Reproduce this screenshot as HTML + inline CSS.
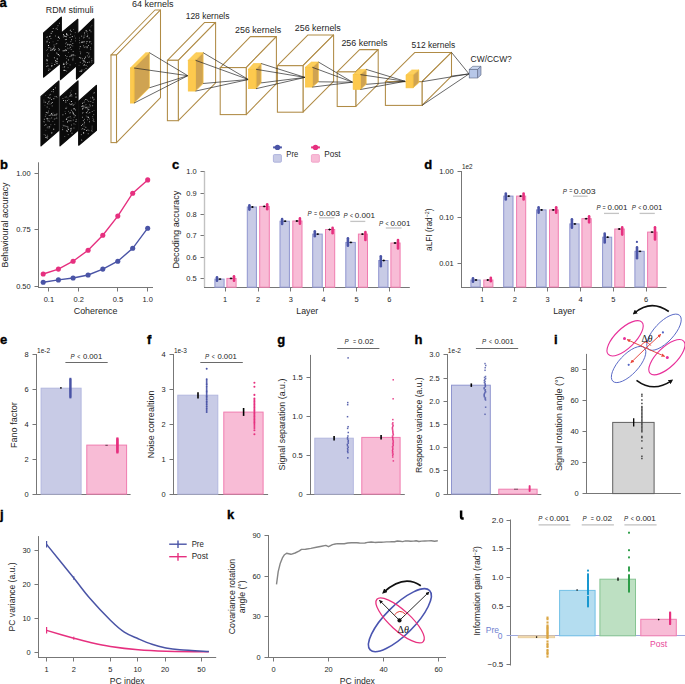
<!DOCTYPE html>
<html><head><meta charset="utf-8"><style>html,body{margin:0;padding:0;background:#fff;}svg{display:block;}text{font-family:"Liberation Sans",sans-serif;}</style></head>
<body><svg width="685" height="684" viewBox="0 0 685 684">
<rect width="685" height="684" fill="#fff"/>
<text x="-0.50" y="6.70" font-size="13" fill="#000" font-weight="bold" stroke="#000" stroke-width="0.35">a</text>
<text x="45.80" y="12.60" font-size="8.4" fill="#262626" font-weight="normal" textLength="47.80" lengthAdjust="spacingAndGlyphs">RDM stimuli</text>
<polygon points="43.60,33.00 61.30,17.10 61.30,62.50 43.60,77.00" fill="#0a0a0a" stroke="#0a0a0a" stroke-width="1.2" stroke-linejoin="round"/>
<clipPath id="st0"><polygon points="43.6,33 61.3,17.1 61.3,62.5 43.6,77"/></clipPath>
<g clip-path="url(#st0)"><rect x="50.1" y="35.6" width="0.7" height="0.7" fill="#fff" opacity="0.4"/><rect x="56.7" y="27.5" width="0.8" height="0.8" fill="#fff" opacity="0.4"/><rect x="46.3" y="50.1" width="0.8" height="0.8" fill="#fff" opacity="0.4"/><rect x="47.0" y="49.1" width="0.8" height="0.8" fill="#fff" opacity="0.4"/><rect x="54.2" y="49.2" width="1.0" height="1.0" fill="#fff" opacity="0.4"/><rect x="46.5" y="41.6" width="0.9" height="0.9" fill="#fff" opacity="0.55"/><rect x="51.4" y="49.9" width="0.8" height="0.8" fill="#fff" opacity="0.7"/><rect x="47.2" y="54.7" width="0.9" height="0.9" fill="#fff" opacity="0.55"/><rect x="47.1" y="60.3" width="0.8" height="0.8" fill="#fff" opacity="0.4"/><rect x="52.4" y="48.7" width="1.0" height="1.0" fill="#fff" opacity="0.7"/><rect x="53.6" y="44.6" width="0.8" height="0.8" fill="#fff" opacity="0.7"/><rect x="56.4" y="52.0" width="0.7" height="0.7" fill="#fff" opacity="0.55"/><rect x="53.4" y="47.6" width="1.0" height="1.0" fill="#fff" opacity="0.7"/><rect x="49.6" y="68.8" width="1.0" height="1.0" fill="#fff" opacity="0.4"/><rect x="48.0" y="45.0" width="1.0" height="1.0" fill="#fff" opacity="0.85"/><rect x="46.3" y="59.3" width="0.9" height="0.9" fill="#fff" opacity="0.7"/><rect x="55.0" y="48.9" width="0.7" height="0.7" fill="#fff" opacity="0.85"/><rect x="57.0" y="61.3" width="0.7" height="0.7" fill="#fff" opacity="0.85"/><rect x="46.6" y="60.3" width="0.9" height="0.9" fill="#fff" opacity="0.85"/><rect x="55.3" y="60.4" width="0.7" height="0.7" fill="#fff" opacity="0.7"/><rect x="58.3" y="36.6" width="1.0" height="1.0" fill="#fff" opacity="0.4"/><rect x="46.6" y="63.0" width="0.8" height="0.8" fill="#fff" opacity="0.55"/><rect x="51.1" y="65.1" width="0.7" height="0.7" fill="#fff" opacity="0.85"/><rect x="48.0" y="47.3" width="0.8" height="0.8" fill="#fff" opacity="0.7"/><rect x="56.7" y="58.3" width="1.0" height="1.0" fill="#fff" opacity="0.7"/><rect x="58.9" y="49.2" width="0.8" height="0.8" fill="#fff" opacity="0.85"/><rect x="47.8" y="38.7" width="0.8" height="0.8" fill="#fff" opacity="0.55"/><rect x="46.0" y="65.9" width="0.9" height="0.9" fill="#fff" opacity="0.55"/><rect x="49.5" y="35.9" width="0.9" height="0.9" fill="#fff" opacity="0.7"/><rect x="58.5" y="49.9" width="1.0" height="1.0" fill="#fff" opacity="0.4"/><rect x="57.8" y="54.1" width="1.0" height="1.0" fill="#fff" opacity="0.85"/><rect x="51.1" y="32.9" width="0.7" height="0.7" fill="#fff" opacity="0.85"/><rect x="48.3" y="70.0" width="0.8" height="0.8" fill="#fff" opacity="0.85"/><rect x="47.3" y="55.8" width="0.7" height="0.7" fill="#fff" opacity="0.4"/><rect x="53.3" y="48.1" width="0.7" height="0.7" fill="#fff" opacity="0.7"/><rect x="46.7" y="40.8" width="0.8" height="0.8" fill="#fff" opacity="0.85"/><rect x="54.2" y="64.0" width="1.0" height="1.0" fill="#fff" opacity="0.7"/><rect x="47.4" y="65.4" width="1.0" height="1.0" fill="#fff" opacity="0.85"/><rect x="52.2" y="31.2" width="0.9" height="0.9" fill="#fff" opacity="0.4"/><rect x="55.6" y="43.8" width="0.7" height="0.7" fill="#fff" opacity="0.55"/><rect x="48.5" y="68.6" width="0.8" height="0.8" fill="#fff" opacity="0.7"/><rect x="55.0" y="61.8" width="0.7" height="0.7" fill="#fff" opacity="0.7"/><rect x="55.1" y="35.6" width="0.8" height="0.8" fill="#fff" opacity="0.7"/><rect x="50.5" y="38.1" width="0.8" height="0.8" fill="#fff" opacity="0.7"/><rect x="54.0" y="57.6" width="0.8" height="0.8" fill="#fff" opacity="0.55"/><rect x="56.7" y="53.4" width="0.8" height="0.8" fill="#fff" opacity="0.55"/><rect x="52.7" y="41.5" width="0.7" height="0.7" fill="#fff" opacity="0.4"/><rect x="56.3" y="43.0" width="0.9" height="0.9" fill="#fff" opacity="0.55"/><rect x="51.7" y="65.3" width="0.9" height="0.9" fill="#fff" opacity="0.7"/><rect x="46.9" y="36.6" width="0.8" height="0.8" fill="#fff" opacity="0.85"/><rect x="50.3" y="48.6" width="1.0" height="1.0" fill="#fff" opacity="0.4"/><rect x="57.9" y="36.5" width="0.7" height="0.7" fill="#fff" opacity="0.4"/><rect x="57.9" y="54.0" width="1.0" height="1.0" fill="#fff" opacity="0.55"/><rect x="57.6" y="40.3" width="0.7" height="0.7" fill="#fff" opacity="0.7"/><rect x="56.5" y="62.8" width="1.0" height="1.0" fill="#fff" opacity="0.85"/><rect x="51.1" y="66.2" width="0.8" height="0.8" fill="#fff" opacity="0.55"/><rect x="59.0" y="22.8" width="0.8" height="0.8" fill="#fff" opacity="0.85"/><rect x="53.9" y="49.9" width="0.9" height="0.9" fill="#fff" opacity="0.85"/><rect x="47.9" y="53.2" width="0.7" height="0.7" fill="#fff" opacity="0.4"/><rect x="56.4" y="53.0" width="0.8" height="0.8" fill="#fff" opacity="0.4"/><rect x="51.6" y="62.9" width="0.7" height="0.7" fill="#fff" opacity="0.55"/><rect x="49.1" y="42.1" width="0.9" height="0.9" fill="#fff" opacity="0.55"/><rect x="49.2" y="47.0" width="0.7" height="0.7" fill="#fff" opacity="0.55"/><rect x="57.9" y="36.8" width="1.0" height="1.0" fill="#fff" opacity="0.85"/><rect x="56.8" y="58.8" width="0.8" height="0.8" fill="#fff" opacity="0.55"/><rect x="52.8" y="28.0" width="0.8" height="0.8" fill="#fff" opacity="0.85"/><rect x="53.9" y="57.2" width="0.8" height="0.8" fill="#fff" opacity="0.55"/><rect x="47.7" y="56.2" width="0.7" height="0.7" fill="#fff" opacity="0.4"/><rect x="50.1" y="50.1" width="0.7" height="0.7" fill="#fff" opacity="0.85"/><rect x="57.5" y="25.3" width="0.9" height="0.9" fill="#fff" opacity="0.55"/><rect x="46.4" y="36.9" width="0.7" height="0.7" fill="#fff" opacity="0.85"/><rect x="55.9" y="60.9" width="0.9" height="0.9" fill="#fff" opacity="0.85"/><rect x="53.9" y="46.3" width="0.9" height="0.9" fill="#fff" opacity="0.55"/><rect x="51.8" y="49.3" width="0.8" height="0.8" fill="#fff" opacity="0.85"/><rect x="55.1" y="60.2" width="0.8" height="0.8" fill="#fff" opacity="0.7"/><rect x="57.0" y="29.0" width="1.0" height="1.0" fill="#fff" opacity="0.4"/><rect x="51.7" y="31.1" width="1.0" height="1.0" fill="#fff" opacity="0.55"/><rect x="46.8" y="58.9" width="0.8" height="0.8" fill="#fff" opacity="0.4"/><rect x="58.3" y="48.1" width="0.8" height="0.8" fill="#fff" opacity="0.7"/><rect x="49.2" y="35.9" width="0.8" height="0.8" fill="#fff" opacity="0.85"/><rect x="55.7" y="28.4" width="0.8" height="0.8" fill="#fff" opacity="0.85"/><rect x="59.0" y="55.2" width="1.0" height="1.0" fill="#fff" opacity="0.55"/><rect x="59.0" y="37.9" width="0.8" height="0.8" fill="#fff" opacity="0.85"/><rect x="50.5" y="32.9" width="0.7" height="0.7" fill="#fff" opacity="0.7"/><rect x="50.3" y="47.6" width="1.0" height="1.0" fill="#fff" opacity="0.4"/></g>
<polygon points="60.50,33.60 77.80,19.30 77.80,64.50 60.50,79.50" fill="#0a0a0a" stroke="#0a0a0a" stroke-width="1.2" stroke-linejoin="round"/>
<clipPath id="st1"><polygon points="60.5,33.6 77.8,19.3 77.8,64.5 60.5,79.5"/></clipPath>
<g clip-path="url(#st1)"><rect x="67.0" y="56.1" width="0.7" height="0.7" fill="#fff" opacity="0.4"/><rect x="75.4" y="55.5" width="0.7" height="0.7" fill="#fff" opacity="0.4"/><rect x="66.1" y="33.1" width="0.9" height="0.9" fill="#fff" opacity="0.55"/><rect x="72.4" y="59.4" width="1.0" height="1.0" fill="#fff" opacity="0.7"/><rect x="64.6" y="70.1" width="0.9" height="0.9" fill="#fff" opacity="0.85"/><rect x="63.9" y="35.7" width="1.0" height="1.0" fill="#fff" opacity="0.55"/><rect x="74.2" y="35.6" width="0.7" height="0.7" fill="#fff" opacity="0.4"/><rect x="73.0" y="29.1" width="0.7" height="0.7" fill="#fff" opacity="0.55"/><rect x="66.1" y="36.4" width="0.9" height="0.9" fill="#fff" opacity="0.4"/><rect x="75.5" y="40.5" width="0.8" height="0.8" fill="#fff" opacity="0.7"/><rect x="63.3" y="62.8" width="0.8" height="0.8" fill="#fff" opacity="0.4"/><rect x="66.1" y="38.9" width="0.9" height="0.9" fill="#fff" opacity="0.7"/><rect x="69.6" y="37.0" width="0.8" height="0.8" fill="#fff" opacity="0.85"/><rect x="66.2" y="64.1" width="0.7" height="0.7" fill="#fff" opacity="0.7"/><rect x="62.9" y="64.0" width="1.0" height="1.0" fill="#fff" opacity="0.55"/><rect x="65.9" y="49.8" width="1.0" height="1.0" fill="#fff" opacity="0.85"/><rect x="69.7" y="64.5" width="0.8" height="0.8" fill="#fff" opacity="0.7"/><rect x="75.4" y="37.6" width="1.0" height="1.0" fill="#fff" opacity="0.55"/><rect x="75.5" y="63.3" width="0.7" height="0.7" fill="#fff" opacity="0.55"/><rect x="63.6" y="63.7" width="1.0" height="1.0" fill="#fff" opacity="0.7"/><rect x="64.8" y="36.0" width="0.9" height="0.9" fill="#fff" opacity="0.85"/><rect x="70.4" y="55.9" width="1.0" height="1.0" fill="#fff" opacity="0.4"/><rect x="65.1" y="43.3" width="0.9" height="0.9" fill="#fff" opacity="0.4"/><rect x="67.4" y="43.8" width="0.8" height="0.8" fill="#fff" opacity="0.7"/><rect x="63.1" y="69.9" width="0.9" height="0.9" fill="#fff" opacity="0.55"/><rect x="65.1" y="46.0" width="1.0" height="1.0" fill="#fff" opacity="0.4"/><rect x="66.3" y="58.0" width="0.7" height="0.7" fill="#fff" opacity="0.55"/><rect x="63.9" y="66.6" width="1.0" height="1.0" fill="#fff" opacity="0.55"/><rect x="70.3" y="44.0" width="0.9" height="0.9" fill="#fff" opacity="0.7"/><rect x="70.8" y="31.0" width="1.0" height="1.0" fill="#fff" opacity="0.55"/><rect x="72.6" y="55.3" width="0.8" height="0.8" fill="#fff" opacity="0.85"/><rect x="66.4" y="56.4" width="0.7" height="0.7" fill="#fff" opacity="0.55"/><rect x="73.3" y="54.4" width="0.8" height="0.8" fill="#fff" opacity="0.85"/><rect x="74.4" y="54.9" width="0.8" height="0.8" fill="#fff" opacity="0.4"/><rect x="63.8" y="35.1" width="0.7" height="0.7" fill="#fff" opacity="0.7"/><rect x="67.6" y="48.6" width="0.7" height="0.7" fill="#fff" opacity="0.4"/><rect x="70.8" y="55.2" width="0.9" height="0.9" fill="#fff" opacity="0.85"/><rect x="62.7" y="66.8" width="0.7" height="0.7" fill="#fff" opacity="0.4"/><rect x="72.3" y="45.5" width="0.9" height="0.9" fill="#fff" opacity="0.4"/><rect x="65.7" y="62.6" width="1.0" height="1.0" fill="#fff" opacity="0.55"/><rect x="69.1" y="44.5" width="0.9" height="0.9" fill="#fff" opacity="0.85"/><rect x="72.6" y="51.0" width="0.7" height="0.7" fill="#fff" opacity="0.55"/><rect x="70.4" y="41.3" width="0.8" height="0.8" fill="#fff" opacity="0.7"/><rect x="62.9" y="36.6" width="0.7" height="0.7" fill="#fff" opacity="0.7"/><rect x="71.6" y="54.2" width="0.9" height="0.9" fill="#fff" opacity="0.7"/><rect x="68.7" y="48.2" width="0.8" height="0.8" fill="#fff" opacity="0.4"/><rect x="66.7" y="34.4" width="0.7" height="0.7" fill="#fff" opacity="0.85"/><rect x="66.4" y="34.3" width="0.9" height="0.9" fill="#fff" opacity="0.85"/><rect x="67.7" y="67.4" width="0.7" height="0.7" fill="#fff" opacity="0.55"/><rect x="70.2" y="33.8" width="0.9" height="0.9" fill="#fff" opacity="0.7"/><rect x="64.4" y="66.3" width="0.7" height="0.7" fill="#fff" opacity="0.7"/><rect x="71.8" y="36.1" width="1.0" height="1.0" fill="#fff" opacity="0.85"/><rect x="63.0" y="34.2" width="1.0" height="1.0" fill="#fff" opacity="0.85"/><rect x="67.9" y="59.5" width="0.9" height="0.9" fill="#fff" opacity="0.85"/><rect x="67.6" y="35.2" width="0.7" height="0.7" fill="#fff" opacity="0.7"/><rect x="66.9" y="44.6" width="0.7" height="0.7" fill="#fff" opacity="0.85"/><rect x="74.8" y="32.2" width="0.9" height="0.9" fill="#fff" opacity="0.4"/><rect x="66.0" y="34.2" width="0.7" height="0.7" fill="#fff" opacity="0.85"/><rect x="67.4" y="47.8" width="0.7" height="0.7" fill="#fff" opacity="0.7"/><rect x="66.3" y="33.4" width="0.8" height="0.8" fill="#fff" opacity="0.7"/><rect x="65.9" y="42.4" width="0.8" height="0.8" fill="#fff" opacity="0.7"/><rect x="72.7" y="57.8" width="0.7" height="0.7" fill="#fff" opacity="0.85"/><rect x="73.2" y="51.1" width="0.7" height="0.7" fill="#fff" opacity="0.55"/><rect x="63.3" y="63.6" width="0.8" height="0.8" fill="#fff" opacity="0.85"/><rect x="71.0" y="39.0" width="0.8" height="0.8" fill="#fff" opacity="0.4"/><rect x="64.9" y="49.4" width="0.9" height="0.9" fill="#fff" opacity="0.7"/><rect x="66.0" y="61.6" width="1.0" height="1.0" fill="#fff" opacity="0.7"/><rect x="71.2" y="39.5" width="0.7" height="0.7" fill="#fff" opacity="0.85"/><rect x="64.9" y="39.1" width="1.0" height="1.0" fill="#fff" opacity="0.55"/><rect x="69.8" y="46.8" width="1.0" height="1.0" fill="#fff" opacity="0.7"/><rect x="68.2" y="52.0" width="0.7" height="0.7" fill="#fff" opacity="0.55"/><rect x="65.0" y="55.1" width="0.8" height="0.8" fill="#fff" opacity="0.7"/><rect x="67.5" y="63.2" width="0.7" height="0.7" fill="#fff" opacity="0.55"/><rect x="72.4" y="43.0" width="0.8" height="0.8" fill="#fff" opacity="0.85"/><rect x="67.6" y="44.0" width="1.0" height="1.0" fill="#fff" opacity="0.4"/><rect x="66.3" y="70.7" width="0.8" height="0.8" fill="#fff" opacity="0.55"/><rect x="63.9" y="69.8" width="1.0" height="1.0" fill="#fff" opacity="0.85"/><rect x="71.0" y="44.9" width="0.7" height="0.7" fill="#fff" opacity="0.7"/><rect x="64.3" y="50.2" width="1.0" height="1.0" fill="#fff" opacity="0.85"/><rect x="62.7" y="50.3" width="1.0" height="1.0" fill="#fff" opacity="0.85"/><rect x="65.9" y="36.1" width="0.8" height="0.8" fill="#fff" opacity="0.55"/><rect x="69.4" y="56.4" width="0.7" height="0.7" fill="#fff" opacity="0.85"/><rect x="69.8" y="30.0" width="0.8" height="0.8" fill="#fff" opacity="0.55"/><rect x="70.0" y="29.7" width="0.8" height="0.8" fill="#fff" opacity="0.7"/><rect x="70.8" y="49.0" width="0.7" height="0.7" fill="#fff" opacity="0.85"/></g>
<polygon points="76.50,35.20 93.70,18.80 93.70,63.00 76.50,79.00" fill="#0a0a0a" stroke="#0a0a0a" stroke-width="1.2" stroke-linejoin="round"/>
<clipPath id="st2"><polygon points="76.5,35.2 93.7,18.8 93.7,63 76.5,79"/></clipPath>
<g clip-path="url(#st2)"><rect x="80.0" y="46.1" width="1.0" height="1.0" fill="#fff" opacity="0.55"/><rect x="82.0" y="63.2" width="0.7" height="0.7" fill="#fff" opacity="0.4"/><rect x="85.6" y="67.9" width="0.9" height="0.9" fill="#fff" opacity="0.7"/><rect x="87.0" y="62.2" width="0.8" height="0.8" fill="#fff" opacity="0.85"/><rect x="85.7" y="30.1" width="0.9" height="0.9" fill="#fff" opacity="0.85"/><rect x="79.4" y="42.5" width="0.7" height="0.7" fill="#fff" opacity="0.85"/><rect x="82.0" y="58.4" width="0.8" height="0.8" fill="#fff" opacity="0.7"/><rect x="85.0" y="56.7" width="0.9" height="0.9" fill="#fff" opacity="0.85"/><rect x="87.4" y="35.0" width="0.7" height="0.7" fill="#fff" opacity="0.7"/><rect x="81.3" y="70.8" width="0.8" height="0.8" fill="#fff" opacity="0.7"/><rect x="81.7" y="41.4" width="0.7" height="0.7" fill="#fff" opacity="0.7"/><rect x="90.9" y="43.4" width="0.8" height="0.8" fill="#fff" opacity="0.55"/><rect x="84.9" y="65.2" width="0.8" height="0.8" fill="#fff" opacity="0.4"/><rect x="90.5" y="26.5" width="0.8" height="0.8" fill="#fff" opacity="0.4"/><rect x="84.0" y="58.2" width="1.0" height="1.0" fill="#fff" opacity="0.55"/><rect x="84.5" y="57.9" width="0.7" height="0.7" fill="#fff" opacity="0.7"/><rect x="91.5" y="59.9" width="0.8" height="0.8" fill="#fff" opacity="0.7"/><rect x="81.1" y="69.7" width="0.7" height="0.7" fill="#fff" opacity="0.85"/><rect x="82.7" y="60.0" width="0.9" height="0.9" fill="#fff" opacity="0.7"/><rect x="84.4" y="34.5" width="0.9" height="0.9" fill="#fff" opacity="0.4"/><rect x="79.7" y="51.0" width="0.8" height="0.8" fill="#fff" opacity="0.4"/><rect x="83.6" y="60.9" width="1.0" height="1.0" fill="#fff" opacity="0.7"/><rect x="79.8" y="61.9" width="0.9" height="0.9" fill="#fff" opacity="0.55"/><rect x="85.6" y="46.4" width="0.9" height="0.9" fill="#fff" opacity="0.7"/><rect x="88.1" y="45.1" width="0.8" height="0.8" fill="#fff" opacity="0.85"/><rect x="89.1" y="55.7" width="1.0" height="1.0" fill="#fff" opacity="0.4"/><rect x="79.1" y="37.6" width="0.9" height="0.9" fill="#fff" opacity="0.4"/><rect x="81.2" y="35.7" width="0.9" height="0.9" fill="#fff" opacity="0.7"/><rect x="82.2" y="69.6" width="0.9" height="0.9" fill="#fff" opacity="0.4"/><rect x="88.3" y="53.4" width="0.9" height="0.9" fill="#fff" opacity="0.7"/><rect x="78.7" y="64.9" width="0.7" height="0.7" fill="#fff" opacity="0.4"/><rect x="89.3" y="29.7" width="1.0" height="1.0" fill="#fff" opacity="0.85"/><rect x="88.8" y="61.7" width="0.8" height="0.8" fill="#fff" opacity="0.85"/><rect x="90.6" y="31.4" width="0.8" height="0.8" fill="#fff" opacity="0.7"/><rect x="86.5" y="41.0" width="1.0" height="1.0" fill="#fff" opacity="0.7"/><rect x="83.3" y="61.7" width="0.8" height="0.8" fill="#fff" opacity="0.4"/><rect x="83.7" y="37.1" width="0.7" height="0.7" fill="#fff" opacity="0.85"/><rect x="87.0" y="46.5" width="0.8" height="0.8" fill="#fff" opacity="0.7"/><rect x="91.2" y="58.2" width="0.9" height="0.9" fill="#fff" opacity="0.4"/><rect x="86.7" y="36.1" width="1.0" height="1.0" fill="#fff" opacity="0.85"/><rect x="91.4" y="61.6" width="0.8" height="0.8" fill="#fff" opacity="0.55"/><rect x="80.4" y="51.9" width="0.7" height="0.7" fill="#fff" opacity="0.55"/><rect x="88.7" y="37.6" width="0.9" height="0.9" fill="#fff" opacity="0.7"/><rect x="83.5" y="59.8" width="1.0" height="1.0" fill="#fff" opacity="0.55"/><rect x="81.9" y="42.1" width="0.9" height="0.9" fill="#fff" opacity="0.55"/><rect x="90.0" y="47.4" width="0.7" height="0.7" fill="#fff" opacity="0.7"/><rect x="83.8" y="69.4" width="0.7" height="0.7" fill="#fff" opacity="0.55"/><rect x="87.1" y="66.3" width="0.7" height="0.7" fill="#fff" opacity="0.4"/><rect x="84.8" y="61.7" width="0.9" height="0.9" fill="#fff" opacity="0.85"/><rect x="79.2" y="46.5" width="0.7" height="0.7" fill="#fff" opacity="0.4"/><rect x="81.1" y="71.1" width="0.7" height="0.7" fill="#fff" opacity="0.55"/><rect x="83.5" y="64.8" width="0.9" height="0.9" fill="#fff" opacity="0.85"/><rect x="88.6" y="52.1" width="0.7" height="0.7" fill="#fff" opacity="0.4"/><rect x="86.9" y="55.5" width="0.8" height="0.8" fill="#fff" opacity="0.7"/><rect x="79.2" y="48.4" width="0.8" height="0.8" fill="#fff" opacity="0.4"/><rect x="91.5" y="24.9" width="0.7" height="0.7" fill="#fff" opacity="0.55"/><rect x="89.2" y="41.6" width="0.8" height="0.8" fill="#fff" opacity="0.7"/><rect x="86.6" y="31.1" width="1.0" height="1.0" fill="#fff" opacity="0.4"/><rect x="85.7" y="31.4" width="1.0" height="1.0" fill="#fff" opacity="0.4"/><rect x="87.2" y="33.5" width="0.8" height="0.8" fill="#fff" opacity="0.4"/><rect x="83.8" y="41.3" width="0.9" height="0.9" fill="#fff" opacity="0.7"/><rect x="84.0" y="32.5" width="1.0" height="1.0" fill="#fff" opacity="0.7"/><rect x="84.0" y="64.2" width="0.8" height="0.8" fill="#fff" opacity="0.7"/><rect x="83.7" y="46.6" width="1.0" height="1.0" fill="#fff" opacity="0.4"/><rect x="90.2" y="41.2" width="1.0" height="1.0" fill="#fff" opacity="0.4"/><rect x="86.1" y="42.8" width="0.8" height="0.8" fill="#fff" opacity="0.55"/><rect x="78.9" y="56.9" width="0.7" height="0.7" fill="#fff" opacity="0.85"/><rect x="86.0" y="64.8" width="0.8" height="0.8" fill="#fff" opacity="0.55"/><rect x="83.2" y="37.7" width="0.7" height="0.7" fill="#fff" opacity="0.55"/><rect x="80.1" y="53.3" width="0.9" height="0.9" fill="#fff" opacity="0.55"/><rect x="80.3" y="70.7" width="0.9" height="0.9" fill="#fff" opacity="0.85"/><rect x="79.4" y="70.9" width="0.7" height="0.7" fill="#fff" opacity="0.85"/><rect x="90.3" y="48.8" width="0.8" height="0.8" fill="#fff" opacity="0.55"/><rect x="86.6" y="52.0" width="1.0" height="1.0" fill="#fff" opacity="0.55"/><rect x="81.0" y="41.9" width="0.8" height="0.8" fill="#fff" opacity="0.85"/><rect x="83.6" y="35.7" width="0.8" height="0.8" fill="#fff" opacity="0.55"/><rect x="79.2" y="57.0" width="0.9" height="0.9" fill="#fff" opacity="0.4"/><rect x="80.2" y="57.5" width="1.0" height="1.0" fill="#fff" opacity="0.7"/><rect x="82.6" y="41.5" width="0.9" height="0.9" fill="#fff" opacity="0.85"/><rect x="84.4" y="47.2" width="0.7" height="0.7" fill="#fff" opacity="0.4"/><rect x="86.6" y="47.2" width="1.0" height="1.0" fill="#fff" opacity="0.55"/><rect x="88.5" y="56.8" width="0.8" height="0.8" fill="#fff" opacity="0.85"/><rect x="89.1" y="41.4" width="0.8" height="0.8" fill="#fff" opacity="0.4"/><rect x="83.3" y="45.5" width="0.7" height="0.7" fill="#fff" opacity="0.85"/><rect x="79.2" y="40.2" width="0.7" height="0.7" fill="#fff" opacity="0.7"/></g>
<polygon points="41.00,96.40 58.90,81.00 58.90,130.40 41.00,145.80" fill="#0a0a0a" stroke="#0a0a0a" stroke-width="1.2" stroke-linejoin="round"/>
<clipPath id="st3"><polygon points="41,96.4 58.9,81 58.9,130.4 41,145.8"/></clipPath>
<g clip-path="url(#st3)"><rect x="43.9" y="118.8" width="0.8" height="0.8" fill="#fff" opacity="0.85"/><rect x="43.5" y="99.7" width="0.8" height="0.8" fill="#fff" opacity="0.4"/><rect x="45.0" y="134.8" width="0.8" height="0.8" fill="#fff" opacity="0.7"/><rect x="52.5" y="121.1" width="0.7" height="0.7" fill="#fff" opacity="0.55"/><rect x="54.4" y="114.4" width="0.8" height="0.8" fill="#fff" opacity="0.7"/><rect x="47.6" y="120.5" width="0.8" height="0.8" fill="#fff" opacity="0.85"/><rect x="46.6" y="136.9" width="0.8" height="0.8" fill="#fff" opacity="0.85"/><rect x="51.2" y="117.5" width="0.9" height="0.9" fill="#fff" opacity="0.55"/><rect x="48.2" y="101.5" width="0.8" height="0.8" fill="#fff" opacity="0.85"/><rect x="51.8" y="102.0" width="1.0" height="1.0" fill="#fff" opacity="0.7"/><rect x="45.5" y="129.9" width="0.7" height="0.7" fill="#fff" opacity="0.4"/><rect x="51.8" y="105.6" width="0.7" height="0.7" fill="#fff" opacity="0.85"/><rect x="46.6" y="117.9" width="0.9" height="0.9" fill="#fff" opacity="0.85"/><rect x="46.8" y="137.9" width="0.9" height="0.9" fill="#fff" opacity="0.55"/><rect x="47.7" y="96.8" width="0.8" height="0.8" fill="#fff" opacity="0.55"/><rect x="51.5" y="132.4" width="0.9" height="0.9" fill="#fff" opacity="0.7"/><rect x="47.4" y="136.3" width="0.7" height="0.7" fill="#fff" opacity="0.7"/><rect x="53.3" y="98.2" width="1.0" height="1.0" fill="#fff" opacity="0.7"/><rect x="48.8" y="108.3" width="0.8" height="0.8" fill="#fff" opacity="0.4"/><rect x="49.8" y="118.5" width="0.7" height="0.7" fill="#fff" opacity="0.4"/><rect x="43.9" y="121.6" width="0.7" height="0.7" fill="#fff" opacity="0.7"/><rect x="50.3" y="114.6" width="0.9" height="0.9" fill="#fff" opacity="0.85"/><rect x="51.2" y="99.2" width="0.8" height="0.8" fill="#fff" opacity="0.85"/><rect x="45.0" y="137.0" width="0.8" height="0.8" fill="#fff" opacity="0.55"/><rect x="49.3" y="94.6" width="0.9" height="0.9" fill="#fff" opacity="0.55"/><rect x="48.6" y="104.1" width="0.7" height="0.7" fill="#fff" opacity="0.4"/><rect x="51.9" y="114.5" width="1.0" height="1.0" fill="#fff" opacity="0.7"/><rect x="51.3" y="113.0" width="0.8" height="0.8" fill="#fff" opacity="0.85"/><rect x="45.4" y="95.1" width="0.7" height="0.7" fill="#fff" opacity="0.4"/><rect x="48.7" y="102.8" width="0.7" height="0.7" fill="#fff" opacity="0.4"/><rect x="43.4" y="121.3" width="0.8" height="0.8" fill="#fff" opacity="0.55"/><rect x="48.8" y="115.2" width="0.8" height="0.8" fill="#fff" opacity="0.85"/><rect x="50.1" y="93.9" width="1.0" height="1.0" fill="#fff" opacity="0.4"/><rect x="52.9" y="89.0" width="1.0" height="1.0" fill="#fff" opacity="0.85"/><rect x="44.3" y="125.2" width="0.8" height="0.8" fill="#fff" opacity="0.55"/><rect x="56.7" y="97.0" width="0.7" height="0.7" fill="#fff" opacity="0.4"/><rect x="47.7" y="126.4" width="0.7" height="0.7" fill="#fff" opacity="0.7"/><rect x="46.8" y="118.5" width="0.9" height="0.9" fill="#fff" opacity="0.85"/><rect x="47.2" y="134.8" width="0.7" height="0.7" fill="#fff" opacity="0.55"/><rect x="55.1" y="87.5" width="0.8" height="0.8" fill="#fff" opacity="0.7"/><rect x="54.6" y="96.2" width="0.9" height="0.9" fill="#fff" opacity="0.55"/><rect x="45.8" y="112.0" width="1.0" height="1.0" fill="#fff" opacity="0.55"/><rect x="55.5" y="114.5" width="1.0" height="1.0" fill="#fff" opacity="0.85"/><rect x="54.5" y="118.2" width="1.0" height="1.0" fill="#fff" opacity="0.4"/><rect x="56.1" y="96.3" width="0.8" height="0.8" fill="#fff" opacity="0.7"/><rect x="48.5" y="118.4" width="0.8" height="0.8" fill="#fff" opacity="0.55"/><rect x="43.6" y="101.6" width="0.9" height="0.9" fill="#fff" opacity="0.55"/><rect x="56.4" y="116.8" width="0.7" height="0.7" fill="#fff" opacity="0.4"/><rect x="45.1" y="124.0" width="0.7" height="0.7" fill="#fff" opacity="0.4"/><rect x="53.1" y="91.4" width="0.8" height="0.8" fill="#fff" opacity="0.7"/><rect x="54.2" y="123.9" width="1.0" height="1.0" fill="#fff" opacity="0.4"/><rect x="44.6" y="104.9" width="0.7" height="0.7" fill="#fff" opacity="0.4"/><rect x="43.7" y="134.2" width="0.9" height="0.9" fill="#fff" opacity="0.4"/><rect x="49.6" y="97.4" width="0.9" height="0.9" fill="#fff" opacity="0.55"/><rect x="47.5" y="112.1" width="0.9" height="0.9" fill="#fff" opacity="0.4"/><rect x="46.7" y="106.6" width="0.9" height="0.9" fill="#fff" opacity="0.7"/><rect x="53.6" y="114.8" width="0.9" height="0.9" fill="#fff" opacity="0.85"/><rect x="51.5" y="91.2" width="0.7" height="0.7" fill="#fff" opacity="0.85"/><rect x="49.1" y="126.3" width="1.0" height="1.0" fill="#fff" opacity="0.7"/><rect x="52.7" y="112.7" width="0.7" height="0.7" fill="#fff" opacity="0.55"/><rect x="51.0" y="103.1" width="0.7" height="0.7" fill="#fff" opacity="0.85"/><rect x="50.3" y="103.7" width="0.7" height="0.7" fill="#fff" opacity="0.4"/><rect x="47.9" y="97.2" width="1.0" height="1.0" fill="#fff" opacity="0.55"/><rect x="51.2" y="132.6" width="0.8" height="0.8" fill="#fff" opacity="0.7"/><rect x="47.0" y="103.2" width="1.0" height="1.0" fill="#fff" opacity="0.55"/><rect x="45.4" y="136.8" width="1.0" height="1.0" fill="#fff" opacity="0.4"/><rect x="53.8" y="118.8" width="0.9" height="0.9" fill="#fff" opacity="0.4"/><rect x="48.0" y="110.7" width="0.7" height="0.7" fill="#fff" opacity="0.85"/><rect x="48.9" y="120.8" width="0.8" height="0.8" fill="#fff" opacity="0.7"/><rect x="47.3" y="112.5" width="1.0" height="1.0" fill="#fff" opacity="0.55"/><rect x="56.5" y="113.6" width="0.8" height="0.8" fill="#fff" opacity="0.85"/><rect x="50.4" y="124.3" width="0.9" height="0.9" fill="#fff" opacity="0.4"/><rect x="51.1" y="113.4" width="0.9" height="0.9" fill="#fff" opacity="0.85"/><rect x="45.5" y="114.5" width="0.8" height="0.8" fill="#fff" opacity="0.7"/><rect x="44.9" y="116.1" width="0.8" height="0.8" fill="#fff" opacity="0.55"/><rect x="46.8" y="127.4" width="0.8" height="0.8" fill="#fff" opacity="0.55"/><rect x="56.4" y="117.8" width="0.8" height="0.8" fill="#fff" opacity="0.7"/><rect x="46.4" y="136.7" width="0.7" height="0.7" fill="#fff" opacity="0.7"/><rect x="45.4" y="124.3" width="1.0" height="1.0" fill="#fff" opacity="0.55"/><rect x="45.2" y="101.8" width="0.9" height="0.9" fill="#fff" opacity="0.7"/><rect x="49.1" y="100.7" width="0.9" height="0.9" fill="#fff" opacity="0.4"/><rect x="46.0" y="111.9" width="0.7" height="0.7" fill="#fff" opacity="0.4"/><rect x="48.6" y="127.5" width="0.9" height="0.9" fill="#fff" opacity="0.55"/><rect x="49.5" y="97.9" width="0.7" height="0.7" fill="#fff" opacity="0.85"/><rect x="53.2" y="128.7" width="1.0" height="1.0" fill="#fff" opacity="0.85"/></g>
<polygon points="60.00,96.90 78.00,81.00 78.00,130.40 60.00,145.80" fill="#0a0a0a" stroke="#0a0a0a" stroke-width="1.2" stroke-linejoin="round"/>
<clipPath id="st4"><polygon points="60,96.9 78,81 78,130.4 60,145.8"/></clipPath>
<g clip-path="url(#st4)"><rect x="73.7" y="116.9" width="0.8" height="0.8" fill="#fff" opacity="0.55"/><rect x="70.9" y="109.8" width="0.9" height="0.9" fill="#fff" opacity="0.7"/><rect x="70.7" y="94.2" width="0.8" height="0.8" fill="#fff" opacity="0.85"/><rect x="72.8" y="119.6" width="0.9" height="0.9" fill="#fff" opacity="0.55"/><rect x="73.8" y="108.6" width="1.0" height="1.0" fill="#fff" opacity="0.4"/><rect x="69.2" y="120.4" width="0.9" height="0.9" fill="#fff" opacity="0.55"/><rect x="72.8" y="105.3" width="0.7" height="0.7" fill="#fff" opacity="0.85"/><rect x="62.7" y="120.9" width="0.8" height="0.8" fill="#fff" opacity="0.55"/><rect x="69.3" y="95.7" width="0.8" height="0.8" fill="#fff" opacity="0.85"/><rect x="72.0" y="111.5" width="0.9" height="0.9" fill="#fff" opacity="0.7"/><rect x="67.8" y="134.3" width="0.8" height="0.8" fill="#fff" opacity="0.55"/><rect x="67.5" y="126.4" width="0.9" height="0.9" fill="#fff" opacity="0.4"/><rect x="70.9" y="101.0" width="1.0" height="1.0" fill="#fff" opacity="0.85"/><rect x="63.0" y="100.0" width="0.9" height="0.9" fill="#fff" opacity="0.85"/><rect x="70.1" y="95.3" width="1.0" height="1.0" fill="#fff" opacity="0.7"/><rect x="75.0" y="109.5" width="1.0" height="1.0" fill="#fff" opacity="0.55"/><rect x="68.5" y="99.2" width="0.8" height="0.8" fill="#fff" opacity="0.4"/><rect x="68.6" y="116.6" width="0.8" height="0.8" fill="#fff" opacity="0.55"/><rect x="67.0" y="121.4" width="1.0" height="1.0" fill="#fff" opacity="0.85"/><rect x="75.7" y="119.2" width="1.0" height="1.0" fill="#fff" opacity="0.55"/><rect x="67.0" y="130.7" width="1.0" height="1.0" fill="#fff" opacity="0.7"/><rect x="71.5" y="132.7" width="1.0" height="1.0" fill="#fff" opacity="0.55"/><rect x="62.2" y="129.2" width="0.9" height="0.9" fill="#fff" opacity="0.7"/><rect x="65.5" y="107.8" width="1.0" height="1.0" fill="#fff" opacity="0.85"/><rect x="68.0" y="120.4" width="0.8" height="0.8" fill="#fff" opacity="0.7"/><rect x="74.8" y="124.2" width="0.7" height="0.7" fill="#fff" opacity="0.4"/><rect x="73.5" y="127.6" width="0.9" height="0.9" fill="#fff" opacity="0.55"/><rect x="70.8" y="90.5" width="0.8" height="0.8" fill="#fff" opacity="0.4"/><rect x="75.1" y="115.1" width="0.7" height="0.7" fill="#fff" opacity="0.7"/><rect x="70.1" y="128.2" width="1.0" height="1.0" fill="#fff" opacity="0.55"/><rect x="66.9" y="100.0" width="0.8" height="0.8" fill="#fff" opacity="0.85"/><rect x="70.5" y="120.5" width="0.9" height="0.9" fill="#fff" opacity="0.4"/><rect x="64.9" y="125.6" width="1.0" height="1.0" fill="#fff" opacity="0.4"/><rect x="71.3" y="94.6" width="0.9" height="0.9" fill="#fff" opacity="0.4"/><rect x="67.9" y="128.9" width="1.0" height="1.0" fill="#fff" opacity="0.85"/><rect x="69.8" y="112.2" width="1.0" height="1.0" fill="#fff" opacity="0.55"/><rect x="65.6" y="101.7" width="0.8" height="0.8" fill="#fff" opacity="0.4"/><rect x="73.6" y="108.1" width="0.9" height="0.9" fill="#fff" opacity="0.85"/><rect x="73.6" y="104.0" width="0.7" height="0.7" fill="#fff" opacity="0.85"/><rect x="64.7" y="111.2" width="0.7" height="0.7" fill="#fff" opacity="0.4"/><rect x="70.5" y="120.3" width="0.7" height="0.7" fill="#fff" opacity="0.7"/><rect x="69.1" y="112.7" width="0.7" height="0.7" fill="#fff" opacity="0.55"/><rect x="65.1" y="113.2" width="0.9" height="0.9" fill="#fff" opacity="0.55"/><rect x="63.5" y="125.3" width="1.0" height="1.0" fill="#fff" opacity="0.7"/><rect x="72.8" y="112.6" width="0.9" height="0.9" fill="#fff" opacity="0.55"/><rect x="68.1" y="110.9" width="0.9" height="0.9" fill="#fff" opacity="0.4"/><rect x="66.2" y="130.4" width="0.9" height="0.9" fill="#fff" opacity="0.85"/><rect x="69.1" y="103.4" width="0.8" height="0.8" fill="#fff" opacity="0.7"/><rect x="71.1" y="124.6" width="0.8" height="0.8" fill="#fff" opacity="0.7"/><rect x="66.5" y="106.8" width="0.7" height="0.7" fill="#fff" opacity="0.4"/><rect x="67.6" y="117.1" width="0.7" height="0.7" fill="#fff" opacity="0.85"/><rect x="67.6" y="97.5" width="0.8" height="0.8" fill="#fff" opacity="0.4"/><rect x="73.4" y="108.6" width="1.0" height="1.0" fill="#fff" opacity="0.4"/><rect x="70.6" y="117.7" width="0.8" height="0.8" fill="#fff" opacity="0.4"/><rect x="62.7" y="124.8" width="0.7" height="0.7" fill="#fff" opacity="0.55"/><rect x="71.2" y="127.9" width="0.7" height="0.7" fill="#fff" opacity="0.85"/><rect x="74.6" y="115.5" width="0.8" height="0.8" fill="#fff" opacity="0.7"/><rect x="72.9" y="112.9" width="0.9" height="0.9" fill="#fff" opacity="0.7"/><rect x="64.7" y="96.7" width="1.0" height="1.0" fill="#fff" opacity="0.4"/><rect x="69.9" y="116.2" width="1.0" height="1.0" fill="#fff" opacity="0.4"/><rect x="69.9" y="92.4" width="1.0" height="1.0" fill="#fff" opacity="0.4"/><rect x="70.0" y="131.1" width="0.7" height="0.7" fill="#fff" opacity="0.85"/><rect x="62.4" y="114.3" width="1.0" height="1.0" fill="#fff" opacity="0.55"/><rect x="72.7" y="112.5" width="1.0" height="1.0" fill="#fff" opacity="0.4"/><rect x="65.1" y="101.6" width="1.0" height="1.0" fill="#fff" opacity="0.4"/><rect x="62.3" y="127.5" width="0.7" height="0.7" fill="#fff" opacity="0.4"/><rect x="65.2" y="100.2" width="0.7" height="0.7" fill="#fff" opacity="0.85"/><rect x="65.9" y="119.2" width="0.8" height="0.8" fill="#fff" opacity="0.85"/><rect x="74.8" y="102.6" width="0.7" height="0.7" fill="#fff" opacity="0.55"/><rect x="66.2" y="118.5" width="1.0" height="1.0" fill="#fff" opacity="0.85"/><rect x="71.3" y="128.8" width="0.7" height="0.7" fill="#fff" opacity="0.4"/><rect x="62.4" y="98.0" width="1.0" height="1.0" fill="#fff" opacity="0.4"/><rect x="66.4" y="125.9" width="1.0" height="1.0" fill="#fff" opacity="0.55"/><rect x="70.5" y="104.1" width="1.0" height="1.0" fill="#fff" opacity="0.85"/><rect x="71.4" y="95.7" width="0.9" height="0.9" fill="#fff" opacity="0.4"/><rect x="75.2" y="93.3" width="1.0" height="1.0" fill="#fff" opacity="0.85"/><rect x="67.4" y="127.5" width="0.9" height="0.9" fill="#fff" opacity="0.7"/><rect x="66.2" y="96.6" width="0.7" height="0.7" fill="#fff" opacity="0.7"/><rect x="73.5" y="114.1" width="1.0" height="1.0" fill="#fff" opacity="0.7"/><rect x="75.5" y="96.6" width="1.0" height="1.0" fill="#fff" opacity="0.85"/><rect x="70.4" y="129.8" width="0.9" height="0.9" fill="#fff" opacity="0.85"/><rect x="71.6" y="103.4" width="1.0" height="1.0" fill="#fff" opacity="0.7"/><rect x="64.3" y="136.1" width="0.9" height="0.9" fill="#fff" opacity="0.4"/><rect x="73.5" y="123.4" width="0.9" height="0.9" fill="#fff" opacity="0.55"/><rect x="75.5" y="121.1" width="0.9" height="0.9" fill="#fff" opacity="0.85"/></g>
<polygon points="78.70,101.30 96.40,85.40 96.40,130.40 78.70,145.20" fill="#0a0a0a" stroke="#0a0a0a" stroke-width="1.2" stroke-linejoin="round"/>
<clipPath id="st5"><polygon points="78.7,101.3 96.4,85.4 96.4,130.4 78.7,145.2"/></clipPath>
<g clip-path="url(#st5)"><rect x="88.0" y="116.8" width="1.0" height="1.0" fill="#fff" opacity="0.85"/><rect x="83.6" y="128.8" width="0.9" height="0.9" fill="#fff" opacity="0.55"/><rect x="89.0" y="121.4" width="0.8" height="0.8" fill="#fff" opacity="0.85"/><rect x="93.2" y="114.1" width="1.0" height="1.0" fill="#fff" opacity="0.4"/><rect x="87.0" y="99.8" width="0.7" height="0.7" fill="#fff" opacity="0.7"/><rect x="84.0" y="121.8" width="0.9" height="0.9" fill="#fff" opacity="0.7"/><rect x="87.2" y="119.4" width="0.8" height="0.8" fill="#fff" opacity="0.55"/><rect x="83.5" y="106.6" width="0.9" height="0.9" fill="#fff" opacity="0.7"/><rect x="88.6" y="109.1" width="0.8" height="0.8" fill="#fff" opacity="0.55"/><rect x="81.5" y="140.3" width="0.7" height="0.7" fill="#fff" opacity="0.7"/><rect x="85.8" y="115.6" width="0.8" height="0.8" fill="#fff" opacity="0.4"/><rect x="85.1" y="99.2" width="0.7" height="0.7" fill="#fff" opacity="0.7"/><rect x="82.2" y="108.7" width="0.8" height="0.8" fill="#fff" opacity="0.85"/><rect x="84.4" y="129.3" width="0.7" height="0.7" fill="#fff" opacity="0.85"/><rect x="93.5" y="121.1" width="0.9" height="0.9" fill="#fff" opacity="0.55"/><rect x="92.1" y="105.2" width="1.0" height="1.0" fill="#fff" opacity="0.55"/><rect x="82.0" y="102.8" width="1.0" height="1.0" fill="#fff" opacity="0.7"/><rect x="87.4" y="129.4" width="1.0" height="1.0" fill="#fff" opacity="0.4"/><rect x="93.2" y="118.9" width="0.9" height="0.9" fill="#fff" opacity="0.4"/><rect x="85.1" y="107.2" width="1.0" height="1.0" fill="#fff" opacity="0.4"/><rect x="83.3" y="132.9" width="0.8" height="0.8" fill="#fff" opacity="0.7"/><rect x="94.1" y="98.8" width="0.9" height="0.9" fill="#fff" opacity="0.4"/><rect x="93.4" y="92.9" width="0.7" height="0.7" fill="#fff" opacity="0.4"/><rect x="84.3" y="118.9" width="0.7" height="0.7" fill="#fff" opacity="0.85"/><rect x="82.2" y="113.0" width="0.8" height="0.8" fill="#fff" opacity="0.4"/><rect x="89.9" y="105.6" width="0.7" height="0.7" fill="#fff" opacity="0.85"/><rect x="87.2" y="110.9" width="0.7" height="0.7" fill="#fff" opacity="0.85"/><rect x="85.9" y="112.3" width="0.8" height="0.8" fill="#fff" opacity="0.85"/><rect x="91.6" y="128.5" width="1.0" height="1.0" fill="#fff" opacity="0.4"/><rect x="90.4" y="101.0" width="0.8" height="0.8" fill="#fff" opacity="0.4"/><rect x="93.2" y="99.5" width="0.8" height="0.8" fill="#fff" opacity="0.7"/><rect x="91.3" y="130.5" width="0.7" height="0.7" fill="#fff" opacity="0.85"/><rect x="89.3" y="112.2" width="0.9" height="0.9" fill="#fff" opacity="0.7"/><rect x="91.8" y="111.0" width="0.8" height="0.8" fill="#fff" opacity="0.7"/><rect x="85.3" y="126.8" width="1.0" height="1.0" fill="#fff" opacity="0.55"/><rect x="88.3" y="100.9" width="0.9" height="0.9" fill="#fff" opacity="0.55"/><rect x="86.5" y="106.5" width="0.9" height="0.9" fill="#fff" opacity="0.4"/><rect x="88.5" y="106.7" width="0.9" height="0.9" fill="#fff" opacity="0.55"/><rect x="87.4" y="108.5" width="0.7" height="0.7" fill="#fff" opacity="0.85"/><rect x="82.9" y="120.1" width="1.0" height="1.0" fill="#fff" opacity="0.55"/><rect x="92.0" y="96.6" width="0.9" height="0.9" fill="#fff" opacity="0.55"/><rect x="86.6" y="107.0" width="0.8" height="0.8" fill="#fff" opacity="0.55"/><rect x="82.2" y="112.0" width="0.7" height="0.7" fill="#fff" opacity="0.55"/><rect x="92.0" y="130.8" width="0.7" height="0.7" fill="#fff" opacity="0.55"/><rect x="86.8" y="116.5" width="1.0" height="1.0" fill="#fff" opacity="0.55"/><rect x="80.9" y="134.3" width="0.8" height="0.8" fill="#fff" opacity="0.7"/><rect x="85.7" y="99.1" width="0.8" height="0.8" fill="#fff" opacity="0.85"/><rect x="84.6" y="105.6" width="0.8" height="0.8" fill="#fff" opacity="0.55"/><rect x="90.4" y="101.1" width="0.7" height="0.7" fill="#fff" opacity="0.4"/><rect x="92.7" y="120.3" width="0.8" height="0.8" fill="#fff" opacity="0.7"/><rect x="83.6" y="123.4" width="0.9" height="0.9" fill="#fff" opacity="0.55"/><rect x="83.6" y="102.0" width="0.7" height="0.7" fill="#fff" opacity="0.85"/><rect x="87.8" y="109.3" width="1.0" height="1.0" fill="#fff" opacity="0.7"/><rect x="82.1" y="116.8" width="0.8" height="0.8" fill="#fff" opacity="0.85"/><rect x="92.5" y="102.0" width="0.9" height="0.9" fill="#fff" opacity="0.55"/><rect x="81.4" y="128.8" width="0.9" height="0.9" fill="#fff" opacity="0.4"/><rect x="87.8" y="113.2" width="0.7" height="0.7" fill="#fff" opacity="0.4"/><rect x="85.6" y="107.2" width="1.0" height="1.0" fill="#fff" opacity="0.7"/><rect x="88.6" y="130.4" width="0.7" height="0.7" fill="#fff" opacity="0.7"/><rect x="93.6" y="110.1" width="0.8" height="0.8" fill="#fff" opacity="0.4"/><rect x="81.2" y="139.4" width="0.8" height="0.8" fill="#fff" opacity="0.55"/><rect x="83.1" y="112.0" width="0.7" height="0.7" fill="#fff" opacity="0.4"/><rect x="82.2" y="128.0" width="0.9" height="0.9" fill="#fff" opacity="0.55"/><rect x="81.1" y="125.0" width="0.8" height="0.8" fill="#fff" opacity="0.85"/><rect x="90.2" y="97.5" width="0.8" height="0.8" fill="#fff" opacity="0.4"/><rect x="81.5" y="106.1" width="0.9" height="0.9" fill="#fff" opacity="0.85"/><rect x="82.4" y="105.3" width="0.8" height="0.8" fill="#fff" opacity="0.55"/><rect x="92.4" y="97.4" width="1.0" height="1.0" fill="#fff" opacity="0.85"/><rect x="83.1" y="132.2" width="1.0" height="1.0" fill="#fff" opacity="0.85"/><rect x="88.8" y="118.5" width="1.0" height="1.0" fill="#fff" opacity="0.4"/><rect x="93.8" y="92.3" width="0.9" height="0.9" fill="#fff" opacity="0.7"/><rect x="86.2" y="130.0" width="0.9" height="0.9" fill="#fff" opacity="0.85"/><rect x="91.7" y="125.7" width="0.9" height="0.9" fill="#fff" opacity="0.4"/><rect x="87.8" y="133.4" width="0.8" height="0.8" fill="#fff" opacity="0.7"/><rect x="92.5" y="117.8" width="0.9" height="0.9" fill="#fff" opacity="0.4"/><rect x="82.4" y="107.9" width="1.0" height="1.0" fill="#fff" opacity="0.7"/><rect x="83.6" y="125.7" width="0.8" height="0.8" fill="#fff" opacity="0.55"/><rect x="86.5" y="112.4" width="0.7" height="0.7" fill="#fff" opacity="0.85"/><rect x="91.7" y="127.3" width="0.7" height="0.7" fill="#fff" opacity="0.4"/><rect x="92.4" y="116.2" width="0.7" height="0.7" fill="#fff" opacity="0.7"/><rect x="89.2" y="104.3" width="1.0" height="1.0" fill="#fff" opacity="0.4"/><rect x="84.0" y="100.5" width="0.9" height="0.9" fill="#fff" opacity="0.4"/><rect x="85.5" y="104.2" width="0.9" height="0.9" fill="#fff" opacity="0.4"/><rect x="82.0" y="123.9" width="1.0" height="1.0" fill="#fff" opacity="0.55"/><rect x="82.5" y="105.5" width="1.0" height="1.0" fill="#fff" opacity="0.7"/></g>
<polygon points="111.00,55.00 155.00,10.00 160.50,10.00 116.50,55.00" fill="#fff" stroke="#b08b45" stroke-width="1.05" stroke-linejoin="round"/>
<polygon points="116.50,55.00 160.50,10.00 160.50,97.60 116.50,142.60" fill="#fff" stroke="#b08b45" stroke-width="1.05" stroke-linejoin="round"/>
<rect x="111.00" y="55.00" width="5.50" height="87.60" fill="#fff" stroke="#b08b45" stroke-width="1.05"/>
<polygon points="130.30,68.00 145.70,52.70 149.40,52.70 134.00,68.00" fill="#fdcf5c" stroke="#f8c440" stroke-width="0.6" stroke-linejoin="round"/>
<polygon points="134.00,68.00 149.40,52.70 149.40,87.80 134.00,103.10" fill="#cfa352" stroke="#f8c440" stroke-width="0.7" stroke-linejoin="round"/>
<rect x="130.30" y="68.00" width="3.70" height="35.10" fill="#fdc94e" stroke="#f8c440" stroke-width="0.6"/>
<polygon points="167.40,60.30 204.70,22.40 215.60,22.40 178.30,60.30" fill="#fff" stroke="#b08b45" stroke-width="1.05" stroke-linejoin="round"/>
<polygon points="178.30,60.30 215.60,22.40 215.60,82.80 178.30,120.70" fill="#fff" stroke="#b08b45" stroke-width="1.05" stroke-linejoin="round"/>
<rect x="167.40" y="60.30" width="10.90" height="60.40" fill="#fff" stroke="#b08b45" stroke-width="1.05"/>
<line x1="134.00" y1="68.00" x2="187.80" y2="75.70" stroke="#262626" stroke-width="0.7"/>
<line x1="149.40" y1="52.70" x2="187.80" y2="75.70" stroke="#262626" stroke-width="0.7"/>
<line x1="134.00" y1="103.10" x2="187.80" y2="75.70" stroke="#262626" stroke-width="0.7"/>
<line x1="149.40" y1="87.80" x2="187.80" y2="75.70" stroke="#262626" stroke-width="0.7"/>
<polygon points="188.20,60.30 195.80,52.70 203.10,52.70 195.50,60.30" fill="#fdcf5c" stroke="#f8c440" stroke-width="0.6" stroke-linejoin="round"/>
<polygon points="195.50,60.30 203.10,52.70 203.10,83.50 195.50,91.10" fill="#cfa352" stroke="#f8c440" stroke-width="0.7" stroke-linejoin="round"/>
<rect x="188.20" y="60.30" width="7.30" height="30.80" fill="#fdc94e" stroke="#f8c440" stroke-width="0.6"/>
<polygon points="220.20,67.60 250.40,36.60 276.40,36.60 246.20,67.60" fill="#fff" stroke="#b08b45" stroke-width="1.05" stroke-linejoin="round"/>
<polygon points="246.20,67.60 276.40,36.60 276.40,83.60 246.20,114.60" fill="#fff" stroke="#b08b45" stroke-width="1.05" stroke-linejoin="round"/>
<rect x="220.20" y="67.60" width="26.00" height="47.00" fill="#fff" stroke="#b08b45" stroke-width="1.05"/>
<line x1="195.50" y1="60.30" x2="248.40" y2="79.50" stroke="#262626" stroke-width="0.7"/>
<line x1="203.10" y1="52.70" x2="248.40" y2="79.50" stroke="#262626" stroke-width="0.7"/>
<line x1="195.50" y1="91.10" x2="248.40" y2="79.50" stroke="#262626" stroke-width="0.7"/>
<line x1="203.10" y1="83.50" x2="248.40" y2="79.50" stroke="#262626" stroke-width="0.7"/>
<polygon points="248.40,69.30 253.50,63.50 261.10,63.50 256.00,69.30" fill="#fdcf5c" stroke="#f8c440" stroke-width="0.6" stroke-linejoin="round"/>
<polygon points="256.00,69.30 261.10,63.50 261.10,82.90 256.00,88.70" fill="#cfa352" stroke="#f8c440" stroke-width="0.7" stroke-linejoin="round"/>
<rect x="248.40" y="69.30" width="7.60" height="19.40" fill="#fdc94e" stroke="#f8c440" stroke-width="0.6"/>
<polygon points="277.40,65.70 308.00,34.90 333.60,34.90 303.00,65.70" fill="#fff" stroke="#b08b45" stroke-width="1.05" stroke-linejoin="round"/>
<polygon points="303.00,65.70 333.60,34.90 333.60,81.40 303.00,112.20" fill="#fff" stroke="#b08b45" stroke-width="1.05" stroke-linejoin="round"/>
<rect x="277.40" y="65.70" width="25.60" height="46.50" fill="#fff" stroke="#b08b45" stroke-width="1.05"/>
<line x1="256.00" y1="69.30" x2="305.00" y2="77.40" stroke="#262626" stroke-width="0.7"/>
<line x1="261.10" y1="63.50" x2="305.00" y2="77.40" stroke="#262626" stroke-width="0.7"/>
<line x1="256.00" y1="88.70" x2="305.00" y2="77.40" stroke="#262626" stroke-width="0.7"/>
<line x1="261.10" y1="82.90" x2="305.00" y2="77.40" stroke="#262626" stroke-width="0.7"/>
<polygon points="305.30,67.30 311.40,62.00 318.40,62.00 312.30,67.30" fill="#fdcf5c" stroke="#f8c440" stroke-width="0.6" stroke-linejoin="round"/>
<polygon points="312.30,67.30 318.40,62.00 318.40,81.80 312.30,87.10" fill="#cfa352" stroke="#f8c440" stroke-width="0.7" stroke-linejoin="round"/>
<rect x="305.30" y="67.30" width="7.00" height="19.80" fill="#fdc94e" stroke="#f8c440" stroke-width="0.6"/>
<polygon points="337.20,71.90 359.60,49.60 378.20,49.60 355.80,71.90" fill="#fff" stroke="#b08b45" stroke-width="1.05" stroke-linejoin="round"/>
<polygon points="355.80,71.90 378.20,49.60 378.20,84.20 355.80,106.50" fill="#fff" stroke="#b08b45" stroke-width="1.05" stroke-linejoin="round"/>
<rect x="337.20" y="71.90" width="18.60" height="34.60" fill="#fff" stroke="#b08b45" stroke-width="1.05"/>
<line x1="312.30" y1="67.30" x2="352.60" y2="82.20" stroke="#262626" stroke-width="0.7"/>
<line x1="318.40" y1="62.00" x2="352.60" y2="82.20" stroke="#262626" stroke-width="0.7"/>
<line x1="312.30" y1="87.10" x2="352.60" y2="82.20" stroke="#262626" stroke-width="0.7"/>
<line x1="318.40" y1="81.80" x2="352.60" y2="82.20" stroke="#262626" stroke-width="0.7"/>
<polygon points="353.10,74.60 358.90,69.40 366.20,69.40 360.40,74.60" fill="#fdcf5c" stroke="#f8c440" stroke-width="0.6" stroke-linejoin="round"/>
<polygon points="360.40,74.60 366.20,69.40 366.20,84.30 360.40,89.50" fill="#cfa352" stroke="#f8c440" stroke-width="0.7" stroke-linejoin="round"/>
<rect x="353.10" y="74.60" width="7.30" height="14.90" fill="#fdc94e" stroke="#f8c440" stroke-width="0.6"/>
<polygon points="385.40,81.70 414.90,52.40 451.50,52.40 422.00,81.70" fill="#fff" stroke="#b08b45" stroke-width="1.05" stroke-linejoin="round"/>
<polygon points="422.00,81.70 451.50,52.40 451.50,76.10 422.00,105.40" fill="#fff" stroke="#b08b45" stroke-width="1.05" stroke-linejoin="round"/>
<rect x="385.40" y="81.70" width="36.60" height="23.70" fill="#fff" stroke="#b08b45" stroke-width="1.05"/>
<line x1="360.40" y1="74.60" x2="405.10" y2="81.30" stroke="#262626" stroke-width="0.7"/>
<line x1="366.20" y1="69.40" x2="405.10" y2="81.30" stroke="#262626" stroke-width="0.7"/>
<line x1="360.40" y1="89.50" x2="405.10" y2="81.30" stroke="#262626" stroke-width="0.7"/>
<line x1="366.20" y1="84.30" x2="405.10" y2="81.30" stroke="#262626" stroke-width="0.7"/>
<polygon points="406.00,75.10 411.80,69.90 418.80,69.90 413.00,75.10" fill="#fdcf5c" stroke="#f8c440" stroke-width="0.6" stroke-linejoin="round"/>
<polygon points="413.00,75.10 418.80,69.90 418.80,82.70 413.00,87.90" fill="#cfa352" stroke="#f8c440" stroke-width="0.7" stroke-linejoin="round"/>
<rect x="406.00" y="75.10" width="7.00" height="12.80" fill="#fdc94e" stroke="#f8c440" stroke-width="0.6"/>
<line x1="422.00" y1="81.70" x2="469.00" y2="73.90" stroke="#262626" stroke-width="0.7"/>
<line x1="451.50" y1="52.40" x2="469.00" y2="73.90" stroke="#262626" stroke-width="0.7"/>
<line x1="422.00" y1="105.40" x2="469.00" y2="73.90" stroke="#262626" stroke-width="0.7"/>
<line x1="451.50" y1="76.10" x2="469.00" y2="73.90" stroke="#262626" stroke-width="0.7"/>
<polygon points="469.20,69.40 472.80,66.30 481.00,66.30 477.60,69.40" fill="#c9d6ef" stroke="#5a6480" stroke-width="0.6" stroke-linejoin="round"/>
<polygon points="477.60,69.40 481.00,66.30 481.00,75.00 477.60,78.00" fill="#a9b8da" stroke="#5a6480" stroke-width="0.6" stroke-linejoin="round"/>
<rect x="469.20" y="69.40" width="8.40" height="8.60" fill="#b7c7e8" stroke="#5a6480" stroke-width="0.6"/>
<text x="131.90" y="6.80" font-size="8.4" fill="#262626" font-weight="normal" textLength="41.50" lengthAdjust="spacingAndGlyphs">64 kernels</text>
<text x="185.70" y="18.50" font-size="8.4" fill="#262626" font-weight="normal" textLength="43.80" lengthAdjust="spacingAndGlyphs">128 kernels</text>
<text x="235.00" y="33.00" font-size="8.4" fill="#262626" font-weight="normal" textLength="46.10" lengthAdjust="spacingAndGlyphs">256 kernels</text>
<text x="294.80" y="31.00" font-size="8.4" fill="#262626" font-weight="normal" textLength="46.00" lengthAdjust="spacingAndGlyphs">256 kernels</text>
<text x="341.40" y="45.60" font-size="8.4" fill="#262626" font-weight="normal" textLength="46.00" lengthAdjust="spacingAndGlyphs">256 kernels</text>
<text x="411.50" y="48.20" font-size="8.4" fill="#262626" font-weight="normal" textLength="43.70" lengthAdjust="spacingAndGlyphs">512 kernels</text>
<text x="470.60" y="61.60" font-size="8.4" fill="#262626" font-weight="normal" textLength="41.20" lengthAdjust="spacingAndGlyphs">CW/CCW?</text>
<text x="0.00" y="168.60" font-size="13" fill="#000" font-weight="bold" stroke="#000" stroke-width="0.35">b</text>
<line x1="38.50" y1="162.30" x2="38.50" y2="287.00" stroke="#777777" stroke-width="1"/>
<line x1="34.50" y1="173.50" x2="39.00" y2="173.50" stroke="#777777" stroke-width="1"/>
<text x="16.15" y="176.30" font-size="7.8" fill="#262626" font-weight="normal" textLength="14.55" lengthAdjust="spacingAndGlyphs">1.00</text>
<line x1="34.50" y1="229.50" x2="39.00" y2="229.50" stroke="#777777" stroke-width="1"/>
<text x="16.15" y="232.30" font-size="7.8" fill="#262626" font-weight="normal" textLength="14.55" lengthAdjust="spacingAndGlyphs">0.75</text>
<line x1="34.50" y1="286.50" x2="39.00" y2="286.50" stroke="#777777" stroke-width="1"/>
<text x="16.15" y="289.30" font-size="7.8" fill="#262626" font-weight="normal" textLength="14.55" lengthAdjust="spacingAndGlyphs">0.50</text>
<line x1="38.00" y1="287.50" x2="153.00" y2="287.50" stroke="#777777" stroke-width="1"/>
<line x1="48.50" y1="287.50" x2="48.50" y2="291.50" stroke="#777777" stroke-width="1"/>
<text x="43.70" y="301.70" font-size="7.8" fill="#262626" font-weight="normal" textLength="10.40" lengthAdjust="spacingAndGlyphs">0.1</text>
<line x1="78.50" y1="287.50" x2="78.50" y2="291.50" stroke="#777777" stroke-width="1"/>
<text x="73.50" y="301.70" font-size="7.8" fill="#262626" font-weight="normal" textLength="10.40" lengthAdjust="spacingAndGlyphs">0.2</text>
<line x1="117.50" y1="287.50" x2="117.50" y2="291.50" stroke="#777777" stroke-width="1"/>
<text x="112.70" y="301.70" font-size="7.8" fill="#262626" font-weight="normal" textLength="10.40" lengthAdjust="spacingAndGlyphs">0.5</text>
<line x1="147.50" y1="287.50" x2="147.50" y2="291.50" stroke="#777777" stroke-width="1"/>
<text x="142.40" y="301.70" font-size="7.8" fill="#262626" font-weight="normal" textLength="10.40" lengthAdjust="spacingAndGlyphs">1.0</text>
<text x="73.70" y="314.20" font-size="8.8" fill="#262626" font-weight="normal" textLength="43.70" lengthAdjust="spacingAndGlyphs">Coherence</text>
<text transform="translate(7.94,267.50) rotate(-90)" x="0" y="0" font-size="8.6" fill="#262626" textLength="85.00" lengthAdjust="spacingAndGlyphs">Behavioural accuracy</text>
<polyline points="43.2,274.0 58.4,269.1 73.1,261.2 88.1,250.2 102.8,235.2 117.8,216.1 132.7,193.2 147.7,179.9" fill="none" stroke="#e6307f" stroke-width="1.4"/>
<polyline points="43.2,282.2 58.4,279.9 73.1,278.0 88.1,275.0 102.8,269.1 117.8,261.2 132.7,248.3 147.7,228.2" fill="none" stroke="#4a54a6" stroke-width="1.4"/>
<circle cx="43.20" cy="274.00" r="2.55" fill="#e6307f"/>
<circle cx="58.40" cy="269.10" r="2.55" fill="#e6307f"/>
<circle cx="73.10" cy="261.20" r="2.55" fill="#e6307f"/>
<circle cx="88.10" cy="250.20" r="2.55" fill="#e6307f"/>
<circle cx="102.80" cy="235.20" r="2.55" fill="#e6307f"/>
<circle cx="117.80" cy="216.10" r="2.55" fill="#e6307f"/>
<circle cx="132.70" cy="193.20" r="2.55" fill="#e6307f"/>
<circle cx="147.70" cy="179.90" r="2.55" fill="#e6307f"/>
<circle cx="43.20" cy="282.20" r="2.55" fill="#4a54a6"/>
<circle cx="58.40" cy="279.90" r="2.55" fill="#4a54a6"/>
<circle cx="73.10" cy="278.00" r="2.55" fill="#4a54a6"/>
<circle cx="88.10" cy="275.00" r="2.55" fill="#4a54a6"/>
<circle cx="102.80" cy="269.10" r="2.55" fill="#4a54a6"/>
<circle cx="117.80" cy="261.20" r="2.55" fill="#4a54a6"/>
<circle cx="132.70" cy="248.30" r="2.55" fill="#4a54a6"/>
<circle cx="147.70" cy="228.20" r="2.55" fill="#4a54a6"/>
<text x="172.00" y="168.80" font-size="13" fill="#000" font-weight="bold" stroke="#000" stroke-width="0.35">c</text>
<line x1="273.10" y1="147.40" x2="281.90" y2="147.40" stroke="#4a54a6" stroke-width="2.0"/>
<circle cx="277.50" cy="147.40" r="2.7" fill="#4a54a6"/>
<line x1="311.10" y1="147.40" x2="319.90" y2="147.40" stroke="#e6307f" stroke-width="2.0"/>
<circle cx="315.50" cy="147.40" r="2.7" fill="#e6307f"/>
<rect x="273.4" y="154.6" width="8" height="7.6" rx="1" fill="#c8cbe6" stroke="#a3a8d8" stroke-width="0.8"/>
<rect x="311.4" y="154.6" width="8" height="7.6" rx="1" fill="#f8bcd6" stroke="#f09cc4" stroke-width="0.8"/>
<text x="286.30" y="157.20" font-size="8.2" fill="#262626" font-weight="normal" textLength="11.90" lengthAdjust="spacingAndGlyphs">Pre</text>
<text x="324.20" y="157.20" font-size="8.2" fill="#262626" font-weight="normal" textLength="16.40" lengthAdjust="spacingAndGlyphs">Post</text>
<line x1="204.50" y1="171.40" x2="204.50" y2="287.20" stroke="#777777" stroke-width="1"/>
<line x1="200.50" y1="171.50" x2="205.00" y2="171.50" stroke="#777777" stroke-width="1"/>
<text x="186.30" y="174.30" font-size="7.8" fill="#262626" font-weight="normal" textLength="10.40" lengthAdjust="spacingAndGlyphs">1.0</text>
<line x1="200.50" y1="193.50" x2="205.00" y2="193.50" stroke="#777777" stroke-width="1"/>
<text x="186.30" y="196.30" font-size="7.8" fill="#262626" font-weight="normal" textLength="10.40" lengthAdjust="spacingAndGlyphs">0.9</text>
<line x1="200.50" y1="214.50" x2="205.00" y2="214.50" stroke="#777777" stroke-width="1"/>
<text x="186.30" y="217.30" font-size="7.8" fill="#262626" font-weight="normal" textLength="10.40" lengthAdjust="spacingAndGlyphs">0.8</text>
<line x1="200.50" y1="235.50" x2="205.00" y2="235.50" stroke="#777777" stroke-width="1"/>
<text x="186.30" y="238.30" font-size="7.8" fill="#262626" font-weight="normal" textLength="10.40" lengthAdjust="spacingAndGlyphs">0.7</text>
<line x1="200.50" y1="257.50" x2="205.00" y2="257.50" stroke="#777777" stroke-width="1"/>
<text x="186.30" y="260.30" font-size="7.8" fill="#262626" font-weight="normal" textLength="10.40" lengthAdjust="spacingAndGlyphs">0.6</text>
<line x1="200.50" y1="278.50" x2="205.00" y2="278.50" stroke="#777777" stroke-width="1"/>
<text x="186.30" y="281.30" font-size="7.8" fill="#262626" font-weight="normal" textLength="10.40" lengthAdjust="spacingAndGlyphs">0.5</text>
<line x1="204.50" y1="171.40" x2="204.50" y2="287.20" stroke="#c2c2c2" stroke-width="1.4"/>
<line x1="204.00" y1="287.50" x2="409.80" y2="287.50" stroke="#777777" stroke-width="1"/>
<line x1="225.50" y1="287.50" x2="225.50" y2="291.50" stroke="#777777" stroke-width="1"/>
<text x="223.03" y="301.70" font-size="7.8" fill="#262626" font-weight="normal" textLength="4.15" lengthAdjust="spacingAndGlyphs">1</text>
<line x1="258.50" y1="287.50" x2="258.50" y2="291.50" stroke="#777777" stroke-width="1"/>
<text x="255.93" y="301.70" font-size="7.8" fill="#262626" font-weight="normal" textLength="4.15" lengthAdjust="spacingAndGlyphs">2</text>
<line x1="290.50" y1="287.50" x2="290.50" y2="291.50" stroke="#777777" stroke-width="1"/>
<text x="288.73" y="301.70" font-size="7.8" fill="#262626" font-weight="normal" textLength="4.15" lengthAdjust="spacingAndGlyphs">3</text>
<line x1="323.50" y1="287.50" x2="323.50" y2="291.50" stroke="#777777" stroke-width="1"/>
<text x="321.53" y="301.70" font-size="7.8" fill="#262626" font-weight="normal" textLength="4.15" lengthAdjust="spacingAndGlyphs">4</text>
<line x1="356.50" y1="287.50" x2="356.50" y2="291.50" stroke="#777777" stroke-width="1"/>
<text x="354.43" y="301.70" font-size="7.8" fill="#262626" font-weight="normal" textLength="4.15" lengthAdjust="spacingAndGlyphs">5</text>
<line x1="389.50" y1="287.50" x2="389.50" y2="291.50" stroke="#777777" stroke-width="1"/>
<text x="387.23" y="301.70" font-size="7.8" fill="#262626" font-weight="normal" textLength="4.15" lengthAdjust="spacingAndGlyphs">6</text>
<text x="296.30" y="314.10" font-size="8.8" fill="#262626" font-weight="normal" textLength="21.90" lengthAdjust="spacingAndGlyphs">Layer</text>
<text transform="translate(178.84,268.60) rotate(-90)" x="0" y="0" font-size="8.6" fill="#262626" textLength="77.90" lengthAdjust="spacingAndGlyphs">Decoding accuracy</text>
<rect x="214.90" y="279.10" width="9.20" height="8.10" fill="#c8cbe6" stroke="#8f95cf" stroke-width="1"/>
<rect x="226.90" y="278.40" width="9.20" height="8.80" fill="#f8bcd6" stroke="#f07cb0" stroke-width="1"/>
<rect x="247.30" y="207.00" width="9.10" height="80.20" fill="#c8cbe6" stroke="#8f95cf" stroke-width="1"/>
<rect x="259.70" y="206.40" width="9.60" height="80.80" fill="#f8bcd6" stroke="#f07cb0" stroke-width="1"/>
<rect x="280.00" y="221.20" width="9.40" height="66.00" fill="#c8cbe6" stroke="#8f95cf" stroke-width="1"/>
<rect x="292.80" y="221.00" width="9.20" height="66.20" fill="#f8bcd6" stroke="#f07cb0" stroke-width="1"/>
<rect x="312.70" y="234.10" width="9.50" height="53.10" fill="#c8cbe6" stroke="#8f95cf" stroke-width="1"/>
<rect x="325.50" y="229.50" width="9.20" height="57.70" fill="#f8bcd6" stroke="#f07cb0" stroke-width="1"/>
<rect x="345.80" y="242.40" width="9.50" height="44.80" fill="#c8cbe6" stroke="#8f95cf" stroke-width="1"/>
<rect x="358.40" y="234.10" width="9.10" height="53.10" fill="#f8bcd6" stroke="#f07cb0" stroke-width="1"/>
<rect x="378.70" y="260.50" width="9.30" height="26.70" fill="#c8cbe6" stroke="#8f95cf" stroke-width="1"/>
<rect x="390.90" y="243.00" width="9.20" height="44.20" fill="#f8bcd6" stroke="#f07cb0" stroke-width="1"/>
<rect x="215.70" y="276.00" width="2.6" height="6" rx="1.3" fill="#4a54a6"/>
<rect x="232.70" y="275.00" width="2.6" height="7" rx="1.3" fill="#e6307f"/>
<circle cx="220.00" cy="279.10" r="0.9" fill="#000"/>
<line x1="218.40" y1="279.10" x2="221.40" y2="279.10" stroke="#000" stroke-width="0.6"/>
<circle cx="231.00" cy="278.40" r="0.9" fill="#000"/>
<line x1="229.60" y1="278.40" x2="232.60" y2="278.40" stroke="#000" stroke-width="0.6"/>
<rect x="248.10" y="203.90" width="2.6" height="7" rx="1.3" fill="#4a54a6"/>
<rect x="265.90" y="203.05" width="2.6" height="7.5" rx="1.3" fill="#e6307f"/>
<circle cx="252.40" cy="207.00" r="0.9" fill="#000"/>
<line x1="250.80" y1="207.00" x2="253.80" y2="207.00" stroke="#000" stroke-width="0.6"/>
<circle cx="264.20" cy="206.40" r="0.9" fill="#000"/>
<line x1="262.80" y1="206.40" x2="265.80" y2="206.40" stroke="#000" stroke-width="0.6"/>
<rect x="280.80" y="217.85" width="2.6" height="7.5" rx="1.3" fill="#4a54a6"/>
<rect x="298.60" y="217.10" width="2.6" height="8" rx="1.3" fill="#e6307f"/>
<circle cx="285.10" cy="221.20" r="0.9" fill="#000"/>
<line x1="283.50" y1="221.20" x2="286.50" y2="221.20" stroke="#000" stroke-width="0.6"/>
<circle cx="296.90" cy="221.00" r="0.9" fill="#000"/>
<line x1="295.50" y1="221.00" x2="298.50" y2="221.00" stroke="#000" stroke-width="0.6"/>
<rect x="313.50" y="229.90" width="2.6" height="7.6" rx="1.3" fill="#4a54a6"/>
<rect x="331.30" y="226.45" width="2.6" height="8.1" rx="1.3" fill="#e6307f"/>
<circle cx="317.80" cy="234.10" r="0.9" fill="#000"/>
<line x1="316.20" y1="234.10" x2="319.20" y2="234.10" stroke="#000" stroke-width="0.6"/>
<circle cx="329.60" cy="229.50" r="0.9" fill="#000"/>
<line x1="328.20" y1="229.50" x2="331.20" y2="229.50" stroke="#000" stroke-width="0.6"/>
<rect x="346.60" y="237.00" width="2.6" height="10" rx="1.3" fill="#4a54a6"/>
<rect x="364.10" y="230.75" width="2.6" height="10.5" rx="1.3" fill="#e6307f"/>
<circle cx="350.90" cy="242.40" r="0.9" fill="#000"/>
<line x1="349.30" y1="242.40" x2="352.30" y2="242.40" stroke="#000" stroke-width="0.6"/>
<circle cx="362.40" cy="234.10" r="0.9" fill="#000"/>
<line x1="361.00" y1="234.10" x2="364.00" y2="234.10" stroke="#000" stroke-width="0.6"/>
<rect x="379.50" y="254.95" width="2.6" height="12.5" rx="1.3" fill="#4a54a6"/>
<rect x="396.70" y="238.80" width="2.6" height="11" rx="1.3" fill="#e6307f"/>
<circle cx="383.80" cy="260.50" r="0.9" fill="#000"/>
<line x1="382.20" y1="260.50" x2="385.20" y2="260.50" stroke="#000" stroke-width="0.6"/>
<circle cx="395.00" cy="243.00" r="0.9" fill="#000"/>
<line x1="393.60" y1="243.00" x2="396.60" y2="243.00" stroke="#000" stroke-width="0.6"/>
<text x="307.60" y="215.80" font-size="7.8" font-style="italic" fill="#262626" textLength="4.1" lengthAdjust="spacingAndGlyphs">P</text>
<text x="314.10" y="215.60" font-size="7.0" fill="#262626" textLength="3.1" lengthAdjust="spacingAndGlyphs">=</text>
<text x="318.90" y="215.80" font-size="8.0" fill="#262626" textLength="21.20" lengthAdjust="spacingAndGlyphs">0.003</text>
<line x1="319.00" y1="217.80" x2="334.40" y2="217.80" stroke="#c4c4c4" stroke-width="1.3"/>
<text x="343.50" y="218.00" font-size="7.8" font-style="italic" fill="#262626" textLength="4.1" lengthAdjust="spacingAndGlyphs">P</text>
<text x="350.00" y="217.80" font-size="7.0" fill="#262626" textLength="3.1" lengthAdjust="spacingAndGlyphs">&lt;</text>
<text x="354.80" y="218.00" font-size="8.0" fill="#262626" textLength="20.20" lengthAdjust="spacingAndGlyphs">0.001</text>
<line x1="350.30" y1="221.40" x2="365.30" y2="221.40" stroke="#c4c4c4" stroke-width="1.3"/>
<text x="379.10" y="226.30" font-size="7.8" font-style="italic" fill="#262626" textLength="4.1" lengthAdjust="spacingAndGlyphs">P</text>
<text x="385.60" y="226.10" font-size="7.0" fill="#262626" textLength="3.1" lengthAdjust="spacingAndGlyphs">&lt;</text>
<text x="390.40" y="226.30" font-size="8.0" fill="#262626" textLength="20.00" lengthAdjust="spacingAndGlyphs">0.001</text>
<line x1="385.80" y1="228.00" x2="401.60" y2="228.00" stroke="#c4c4c4" stroke-width="1.3"/>
<text x="424.30" y="168.60" font-size="13" fill="#000" font-weight="bold" stroke="#000" stroke-width="0.35">d</text>
<line x1="461.50" y1="171.30" x2="461.50" y2="287.00" stroke="#777777" stroke-width="1"/>
<line x1="457.50" y1="171.50" x2="462.00" y2="171.50" stroke="#777777" stroke-width="1"/>
<text x="439.15" y="174.30" font-size="7.8" fill="#262626" font-weight="normal" textLength="14.55" lengthAdjust="spacingAndGlyphs">1.00</text>
<line x1="457.50" y1="217.50" x2="462.00" y2="217.50" stroke="#777777" stroke-width="1"/>
<text x="439.15" y="220.30" font-size="7.8" fill="#262626" font-weight="normal" textLength="14.55" lengthAdjust="spacingAndGlyphs">0.10</text>
<line x1="457.50" y1="263.50" x2="462.00" y2="263.50" stroke="#777777" stroke-width="1"/>
<text x="439.15" y="266.30" font-size="7.8" fill="#262626" font-weight="normal" textLength="14.55" lengthAdjust="spacingAndGlyphs">0.01</text>
<line x1="461.00" y1="287.50" x2="666.50" y2="287.50" stroke="#777777" stroke-width="1"/>
<line x1="482.50" y1="287.50" x2="482.50" y2="291.50" stroke="#777777" stroke-width="1"/>
<text x="480.12" y="301.70" font-size="7.8" fill="#262626" font-weight="normal" textLength="4.15" lengthAdjust="spacingAndGlyphs">1</text>
<line x1="514.50" y1="287.50" x2="514.50" y2="291.50" stroke="#777777" stroke-width="1"/>
<text x="512.72" y="301.70" font-size="7.8" fill="#262626" font-weight="normal" textLength="4.15" lengthAdjust="spacingAndGlyphs">2</text>
<line x1="547.50" y1="287.50" x2="547.50" y2="291.50" stroke="#777777" stroke-width="1"/>
<text x="545.62" y="301.70" font-size="7.8" fill="#262626" font-weight="normal" textLength="4.15" lengthAdjust="spacingAndGlyphs">3</text>
<line x1="580.50" y1="287.50" x2="580.50" y2="291.50" stroke="#777777" stroke-width="1"/>
<text x="578.42" y="301.70" font-size="7.8" fill="#262626" font-weight="normal" textLength="4.15" lengthAdjust="spacingAndGlyphs">4</text>
<line x1="613.50" y1="287.50" x2="613.50" y2="291.50" stroke="#777777" stroke-width="1"/>
<text x="611.32" y="301.70" font-size="7.8" fill="#262626" font-weight="normal" textLength="4.15" lengthAdjust="spacingAndGlyphs">5</text>
<line x1="646.50" y1="287.50" x2="646.50" y2="291.50" stroke="#777777" stroke-width="1"/>
<text x="644.02" y="301.70" font-size="7.8" fill="#262626" font-weight="normal" textLength="4.15" lengthAdjust="spacingAndGlyphs">6</text>
<text x="462.00" y="169.20" font-size="7.2" fill="#262626" font-weight="normal" textLength="10.60" lengthAdjust="spacingAndGlyphs">1e2</text>
<text x="553.20" y="314.10" font-size="8.8" fill="#262626" font-weight="normal" textLength="22.00" lengthAdjust="spacingAndGlyphs">Layer</text>
<text transform="translate(431.50,250.9) rotate(-90)" x="0" y="0" font-size="8.6" fill="#262626" textLength="42.4" lengthAdjust="spacingAndGlyphs">aLFI (rad<tspan font-size="5.5" dy="-3">−2</tspan><tspan dy="3">)</tspan></text>
<rect x="470.90" y="280.00" width="9.30" height="7.00" fill="#c8cbe6" stroke="#8f95cf" stroke-width="1"/>
<rect x="483.80" y="280.00" width="9.10" height="7.00" fill="#f8bcd6" stroke="#f07cb0" stroke-width="1"/>
<rect x="503.70" y="196.10" width="9.30" height="90.90" fill="#c8cbe6" stroke="#8f95cf" stroke-width="1"/>
<rect x="516.60" y="196.10" width="9.10" height="90.90" fill="#f8bcd6" stroke="#f07cb0" stroke-width="1"/>
<rect x="536.50" y="209.90" width="9.60" height="77.10" fill="#c8cbe6" stroke="#8f95cf" stroke-width="1"/>
<rect x="549.50" y="209.90" width="8.80" height="77.10" fill="#f8bcd6" stroke="#f07cb0" stroke-width="1"/>
<rect x="569.80" y="223.90" width="9.30" height="63.10" fill="#c8cbe6" stroke="#8f95cf" stroke-width="1"/>
<rect x="581.90" y="218.70" width="9.30" height="68.30" fill="#f8bcd6" stroke="#f07cb0" stroke-width="1"/>
<rect x="602.60" y="237.20" width="9.10" height="49.80" fill="#c8cbe6" stroke="#8f95cf" stroke-width="1"/>
<rect x="614.80" y="229.00" width="9.50" height="58.00" fill="#f8bcd6" stroke="#f07cb0" stroke-width="1"/>
<rect x="634.90" y="251.30" width="9.30" height="35.70" fill="#c8cbe6" stroke="#8f95cf" stroke-width="1"/>
<rect x="647.60" y="232.10" width="9.50" height="54.90" fill="#f8bcd6" stroke="#f07cb0" stroke-width="1"/>
<rect x="471.70" y="277.00" width="2.6" height="6" rx="1.3" fill="#4a54a6"/>
<rect x="489.50" y="276.50" width="2.6" height="6" rx="1.3" fill="#e6307f"/>
<circle cx="476.00" cy="280.00" r="0.9" fill="#000"/>
<line x1="474.40" y1="280.00" x2="477.40" y2="280.00" stroke="#000" stroke-width="0.6"/>
<circle cx="487.80" cy="280.00" r="0.9" fill="#000"/>
<line x1="486.40" y1="280.00" x2="489.40" y2="280.00" stroke="#000" stroke-width="0.6"/>
<rect x="504.50" y="192.25" width="2.6" height="8.5" rx="1.3" fill="#4a54a6"/>
<rect x="522.30" y="192.25" width="2.6" height="8.5" rx="1.3" fill="#e6307f"/>
<circle cx="508.80" cy="196.10" r="0.9" fill="#000"/>
<line x1="507.20" y1="196.10" x2="510.20" y2="196.10" stroke="#000" stroke-width="0.6"/>
<circle cx="520.60" cy="196.10" r="0.9" fill="#000"/>
<line x1="519.20" y1="196.10" x2="522.20" y2="196.10" stroke="#000" stroke-width="0.6"/>
<rect x="537.30" y="206.00" width="2.6" height="8" rx="1.3" fill="#4a54a6"/>
<rect x="554.90" y="206.00" width="2.6" height="8" rx="1.3" fill="#e6307f"/>
<circle cx="541.60" cy="209.90" r="0.9" fill="#000"/>
<line x1="540.00" y1="209.90" x2="543.00" y2="209.90" stroke="#000" stroke-width="0.6"/>
<circle cx="553.20" cy="209.90" r="0.9" fill="#000"/>
<line x1="551.80" y1="209.90" x2="554.80" y2="209.90" stroke="#000" stroke-width="0.6"/>
<rect x="570.60" y="218.00" width="2.6" height="11" rx="1.3" fill="#4a54a6"/>
<rect x="587.80" y="214.95" width="2.6" height="8.7" rx="1.3" fill="#e6307f"/>
<circle cx="574.90" cy="223.90" r="0.9" fill="#000"/>
<line x1="573.30" y1="223.90" x2="576.30" y2="223.90" stroke="#000" stroke-width="0.6"/>
<circle cx="586.10" cy="218.70" r="0.9" fill="#000"/>
<line x1="584.70" y1="218.70" x2="587.70" y2="218.70" stroke="#000" stroke-width="0.6"/>
<rect x="603.40" y="232.15" width="2.6" height="11.7" rx="1.3" fill="#4a54a6"/>
<rect x="620.90" y="226.10" width="2.6" height="9.8" rx="1.3" fill="#e6307f"/>
<circle cx="607.70" cy="237.20" r="0.9" fill="#000"/>
<line x1="606.10" y1="237.20" x2="609.10" y2="237.20" stroke="#000" stroke-width="0.6"/>
<circle cx="619.20" cy="229.00" r="0.9" fill="#000"/>
<line x1="617.80" y1="229.00" x2="620.80" y2="229.00" stroke="#000" stroke-width="0.6"/>
<rect x="635.70" y="246.10" width="2.6" height="13.4" rx="1.3" fill="#4a54a6"/>
<rect x="653.70" y="226.00" width="2.6" height="14.8" rx="1.3" fill="#e6307f"/>
<circle cx="640.00" cy="251.30" r="0.9" fill="#000"/>
<line x1="638.40" y1="251.30" x2="641.40" y2="251.30" stroke="#000" stroke-width="0.6"/>
<circle cx="652.00" cy="232.10" r="0.9" fill="#000"/>
<line x1="650.60" y1="232.10" x2="653.60" y2="232.10" stroke="#000" stroke-width="0.6"/>
<circle cx="636.90" cy="241.90" r="1.1" fill="#4a54a6"/>
<text x="562.80" y="193.50" font-size="7.8" font-style="italic" fill="#262626" textLength="4.1" lengthAdjust="spacingAndGlyphs">P</text>
<text x="569.20" y="193.30" font-size="7.0" fill="#262626" textLength="3.1" lengthAdjust="spacingAndGlyphs">=</text>
<text x="573.80" y="193.50" font-size="8.0" fill="#262626" textLength="21.80" lengthAdjust="spacingAndGlyphs">0.003</text>
<line x1="573.00" y1="196.20" x2="587.60" y2="196.20" stroke="#c4c4c4" stroke-width="1.3"/>
<text x="596.50" y="210.30" font-size="7.8" font-style="italic" fill="#262626" textLength="4.1" lengthAdjust="spacingAndGlyphs">P</text>
<text x="602.60" y="210.10" font-size="7.0" fill="#262626" textLength="3.1" lengthAdjust="spacingAndGlyphs">=</text>
<text x="607.50" y="210.30" font-size="8.0" fill="#262626" textLength="19.90" lengthAdjust="spacingAndGlyphs">0.001</text>
<line x1="604.00" y1="213.40" x2="619.00" y2="213.40" stroke="#c4c4c4" stroke-width="1.3"/>
<text x="631.70" y="210.30" font-size="7.8" font-style="italic" fill="#262626" textLength="4.1" lengthAdjust="spacingAndGlyphs">P</text>
<text x="638.20" y="210.10" font-size="7.0" fill="#262626" textLength="3.1" lengthAdjust="spacingAndGlyphs">&lt;</text>
<text x="642.80" y="210.30" font-size="8.0" fill="#262626" textLength="19.60" lengthAdjust="spacingAndGlyphs">0.001</text>
<line x1="639.60" y1="213.40" x2="654.80" y2="213.40" stroke="#c4c4c4" stroke-width="1.3"/>
<text x="0.00" y="344.20" font-size="13" fill="#000" font-weight="bold" stroke="#000" stroke-width="0.35">e</text>
<line x1="36.50" y1="354.60" x2="36.50" y2="494.10" stroke="#777777" stroke-width="1"/>
<line x1="32.50" y1="354.50" x2="37.00" y2="354.50" stroke="#777777" stroke-width="1"/>
<text x="24.55" y="357.30" font-size="7.8" fill="#262626" font-weight="normal" textLength="4.15" lengthAdjust="spacingAndGlyphs">8</text>
<line x1="32.50" y1="389.50" x2="37.00" y2="389.50" stroke="#777777" stroke-width="1"/>
<text x="24.55" y="392.30" font-size="7.8" fill="#262626" font-weight="normal" textLength="4.15" lengthAdjust="spacingAndGlyphs">6</text>
<line x1="32.50" y1="424.50" x2="37.00" y2="424.50" stroke="#777777" stroke-width="1"/>
<text x="24.55" y="427.30" font-size="7.8" fill="#262626" font-weight="normal" textLength="4.15" lengthAdjust="spacingAndGlyphs">4</text>
<line x1="32.50" y1="459.50" x2="37.00" y2="459.50" stroke="#777777" stroke-width="1"/>
<text x="24.55" y="462.30" font-size="7.8" fill="#262626" font-weight="normal" textLength="4.15" lengthAdjust="spacingAndGlyphs">2</text>
<line x1="32.50" y1="494.50" x2="37.00" y2="494.50" stroke="#777777" stroke-width="1"/>
<text x="24.55" y="497.30" font-size="7.8" fill="#262626" font-weight="normal" textLength="4.15" lengthAdjust="spacingAndGlyphs">0</text>
<line x1="36.00" y1="494.50" x2="130.60" y2="494.50" stroke="#777777" stroke-width="1"/>
<rect x="41.10" y="388.20" width="40.00" height="105.90" fill="#c8cbe6" stroke="#b3b7df" stroke-width="1"/>
<rect x="86.80" y="445.10" width="39.80" height="49.00" fill="#f8bcd6" stroke="#f07cb0" stroke-width="1"/>
<text x="37.10" y="352.60" font-size="7.2" fill="#262626" font-weight="normal" textLength="13.10" lengthAdjust="spacingAndGlyphs">1e-2</text>
<text x="70.50" y="358.70" font-size="7.8" font-style="italic" fill="#262626" textLength="4.1" lengthAdjust="spacingAndGlyphs">P</text>
<text x="77.30" y="358.50" font-size="7.0" fill="#262626" textLength="3.1" lengthAdjust="spacingAndGlyphs">&lt;</text>
<text x="82.90" y="358.70" font-size="8.0" fill="#262626" textLength="19.30" lengthAdjust="spacingAndGlyphs">0.001</text>
<line x1="65.40" y1="362.50" x2="107.70" y2="362.50" stroke="#6a6a6a" stroke-width="1.0"/>
<text transform="translate(17.24,448.10) rotate(-90)" x="0" y="0" font-size="8.6" fill="#262626" textLength="46.00" lengthAdjust="spacingAndGlyphs">Fano factor</text>
<rect x="69.40" y="377.80" width="2.0" height="2.0" fill="#4a54a6" opacity="1.0"/>
<rect x="69.40" y="378.73" width="2.0" height="2.0" fill="#4a54a6" opacity="1.0"/>
<rect x="69.40" y="379.66" width="2.0" height="2.0" fill="#4a54a6" opacity="1.0"/>
<rect x="69.40" y="380.59" width="2.0" height="2.0" fill="#4a54a6" opacity="1.0"/>
<rect x="69.40" y="381.52" width="2.0" height="2.0" fill="#4a54a6" opacity="1.0"/>
<rect x="69.40" y="382.45" width="2.0" height="2.0" fill="#4a54a6" opacity="1.0"/>
<rect x="69.40" y="383.38" width="2.0" height="2.0" fill="#4a54a6" opacity="1.0"/>
<rect x="69.40" y="384.31" width="2.0" height="2.0" fill="#4a54a6" opacity="1.0"/>
<rect x="69.40" y="385.24" width="2.0" height="2.0" fill="#4a54a6" opacity="1.0"/>
<rect x="69.40" y="386.17" width="2.0" height="2.0" fill="#4a54a6" opacity="1.0"/>
<rect x="69.40" y="387.10" width="2.0" height="2.0" fill="#4a54a6" opacity="1.0"/>
<rect x="69.40" y="388.03" width="2.0" height="2.0" fill="#4a54a6" opacity="1.0"/>
<rect x="69.40" y="388.96" width="2.0" height="2.0" fill="#4a54a6" opacity="1.0"/>
<rect x="69.40" y="389.89" width="2.0" height="2.0" fill="#4a54a6" opacity="1.0"/>
<rect x="69.40" y="390.82" width="2.0" height="2.0" fill="#4a54a6" opacity="1.0"/>
<rect x="69.40" y="391.75" width="2.0" height="2.0" fill="#4a54a6" opacity="1.0"/>
<rect x="69.40" y="392.68" width="2.0" height="2.0" fill="#4a54a6" opacity="1.0"/>
<rect x="69.40" y="393.61" width="2.0" height="2.0" fill="#4a54a6" opacity="1.0"/>
<rect x="69.40" y="394.54" width="2.0" height="2.0" fill="#4a54a6" opacity="1.0"/>
<rect x="69.40" y="395.47" width="2.0" height="2.0" fill="#4a54a6" opacity="1.0"/>
<rect x="69.40" y="396.40" width="2.0" height="2.0" fill="#4a54a6" opacity="1.0"/>
<rect x="60.15" y="387.15" width="1.5" height="1.5" fill="#000" opacity="1.0"/>
<rect x="116.30" y="437.40" width="2.2" height="2.2" fill="#e6307f" opacity="1.0"/>
<rect x="116.30" y="438.33" width="2.2" height="2.2" fill="#e6307f" opacity="1.0"/>
<rect x="116.30" y="439.25" width="2.2" height="2.2" fill="#e6307f" opacity="1.0"/>
<rect x="116.30" y="440.18" width="2.2" height="2.2" fill="#e6307f" opacity="1.0"/>
<rect x="116.30" y="441.11" width="2.2" height="2.2" fill="#e6307f" opacity="1.0"/>
<rect x="116.30" y="442.03" width="2.2" height="2.2" fill="#e6307f" opacity="1.0"/>
<rect x="116.30" y="442.96" width="2.2" height="2.2" fill="#e6307f" opacity="1.0"/>
<rect x="116.30" y="443.89" width="2.2" height="2.2" fill="#e6307f" opacity="1.0"/>
<rect x="116.30" y="444.81" width="2.2" height="2.2" fill="#e6307f" opacity="1.0"/>
<rect x="116.30" y="445.74" width="2.2" height="2.2" fill="#e6307f" opacity="1.0"/>
<rect x="116.30" y="446.67" width="2.2" height="2.2" fill="#e6307f" opacity="1.0"/>
<rect x="116.30" y="447.59" width="2.2" height="2.2" fill="#e6307f" opacity="1.0"/>
<rect x="116.30" y="448.52" width="2.2" height="2.2" fill="#e6307f" opacity="1.0"/>
<rect x="116.30" y="449.45" width="2.2" height="2.2" fill="#e6307f" opacity="1.0"/>
<rect x="116.30" y="450.37" width="2.2" height="2.2" fill="#e6307f" opacity="1.0"/>
<rect x="116.30" y="451.30" width="2.2" height="2.2" fill="#e6307f" opacity="1.0"/>
<line x1="105.40" y1="445.30" x2="107.80" y2="445.30" stroke="#000" stroke-width="0.6"/>
<text x="147.00" y="344.20" font-size="13" fill="#000" font-weight="bold" stroke="#000" stroke-width="0.35">f</text>
<line x1="173.50" y1="354.60" x2="173.50" y2="494.10" stroke="#777777" stroke-width="1"/>
<line x1="169.50" y1="354.50" x2="174.00" y2="354.50" stroke="#777777" stroke-width="1"/>
<text x="161.55" y="357.30" font-size="7.8" fill="#262626" font-weight="normal" textLength="4.15" lengthAdjust="spacingAndGlyphs">4</text>
<line x1="169.50" y1="389.50" x2="174.00" y2="389.50" stroke="#777777" stroke-width="1"/>
<text x="161.55" y="392.30" font-size="7.8" fill="#262626" font-weight="normal" textLength="4.15" lengthAdjust="spacingAndGlyphs">3</text>
<line x1="169.50" y1="424.50" x2="174.00" y2="424.50" stroke="#777777" stroke-width="1"/>
<text x="161.55" y="427.30" font-size="7.8" fill="#262626" font-weight="normal" textLength="4.15" lengthAdjust="spacingAndGlyphs">2</text>
<line x1="169.50" y1="459.50" x2="174.00" y2="459.50" stroke="#777777" stroke-width="1"/>
<text x="161.55" y="462.30" font-size="7.8" fill="#262626" font-weight="normal" textLength="4.15" lengthAdjust="spacingAndGlyphs">1</text>
<line x1="169.50" y1="494.50" x2="174.00" y2="494.50" stroke="#777777" stroke-width="1"/>
<text x="161.55" y="497.30" font-size="7.8" fill="#262626" font-weight="normal" textLength="4.15" lengthAdjust="spacingAndGlyphs">0</text>
<line x1="173.00" y1="494.50" x2="268.10" y2="494.50" stroke="#777777" stroke-width="1"/>
<rect x="177.80" y="395.20" width="40.00" height="98.90" fill="#c8cbe6" stroke="#b3b7df" stroke-width="1"/>
<rect x="223.80" y="412.10" width="39.30" height="82.00" fill="#f8bcd6" stroke="#f07cb0" stroke-width="1"/>
<text x="173.90" y="352.60" font-size="7.2" fill="#262626" font-weight="normal" textLength="13.00" lengthAdjust="spacingAndGlyphs">1e-3</text>
<text x="205.00" y="358.80" font-size="7.8" font-style="italic" fill="#262626" textLength="4.1" lengthAdjust="spacingAndGlyphs">P</text>
<text x="211.80" y="358.60" font-size="7.0" fill="#262626" textLength="3.1" lengthAdjust="spacingAndGlyphs">&lt;</text>
<text x="217.40" y="358.80" font-size="8.0" fill="#262626" textLength="19.40" lengthAdjust="spacingAndGlyphs">0.001</text>
<line x1="200.30" y1="362.50" x2="242.80" y2="362.50" stroke="#6a6a6a" stroke-width="1.0"/>
<text transform="translate(154.44,458.30) rotate(-90)" x="0" y="0" font-size="8.6" fill="#262626" textLength="67.80" lengthAdjust="spacingAndGlyphs">Noise correaltion</text>
<circle cx="206.70" cy="368.80" r="1.0" fill="#4a54a6"/>
<circle cx="206.70" cy="379.30" r="1.0" fill="#4a54a6"/>
<circle cx="206.70" cy="381.00" r="1.0" fill="#4a54a6"/>
<circle cx="206.70" cy="383.00" r="1.0" fill="#4a54a6"/>
<circle cx="206.70" cy="384.50" r="1.0" fill="#4a54a6"/>
<circle cx="206.70" cy="386.30" r="1.0" fill="#4a54a6"/>
<circle cx="206.70" cy="388.00" r="1.0" fill="#4a54a6"/>
<circle cx="206.70" cy="390.00" r="1.0" fill="#4a54a6"/>
<circle cx="206.70" cy="391.50" r="1.0" fill="#4a54a6"/>
<circle cx="206.70" cy="393.00" r="1.0" fill="#4a54a6"/>
<circle cx="206.70" cy="395.00" r="1.0" fill="#4a54a6"/>
<circle cx="206.70" cy="396.50" r="1.0" fill="#4a54a6"/>
<circle cx="206.70" cy="398.00" r="1.0" fill="#4a54a6"/>
<circle cx="206.70" cy="399.80" r="1.0" fill="#4a54a6"/>
<circle cx="206.70" cy="401.50" r="1.0" fill="#4a54a6"/>
<circle cx="206.70" cy="403.00" r="1.0" fill="#4a54a6"/>
<circle cx="206.70" cy="404.80" r="1.0" fill="#4a54a6"/>
<circle cx="206.70" cy="406.50" r="1.0" fill="#4a54a6"/>
<circle cx="206.70" cy="408.30" r="1.0" fill="#4a54a6"/>
<circle cx="206.70" cy="410.00" r="1.0" fill="#4a54a6"/>
<circle cx="206.70" cy="412.00" r="1.0" fill="#4a54a6"/>
<line x1="198.00" y1="392.20" x2="198.00" y2="398.60" stroke="#000" stroke-width="1.6"/>
<circle cx="254.40" cy="382.80" r="1.05" fill="#e6307f"/>
<circle cx="254.40" cy="386.70" r="1.05" fill="#e6307f"/>
<circle cx="254.40" cy="394.90" r="1.05" fill="#e6307f"/>
<circle cx="254.40" cy="398.60" r="1.05" fill="#e6307f"/>
<circle cx="254.40" cy="400.10" r="1.05" fill="#e6307f"/>
<circle cx="254.40" cy="401.60" r="1.05" fill="#e6307f"/>
<circle cx="254.40" cy="403.10" r="1.05" fill="#e6307f"/>
<circle cx="254.40" cy="404.60" r="1.05" fill="#e6307f"/>
<circle cx="254.40" cy="406.10" r="1.05" fill="#e6307f"/>
<circle cx="254.40" cy="407.60" r="1.05" fill="#e6307f"/>
<circle cx="254.40" cy="409.10" r="1.05" fill="#e6307f"/>
<circle cx="254.40" cy="410.60" r="1.05" fill="#e6307f"/>
<circle cx="254.40" cy="412.10" r="1.05" fill="#e6307f"/>
<circle cx="254.40" cy="413.60" r="1.05" fill="#e6307f"/>
<circle cx="254.40" cy="415.10" r="1.05" fill="#e6307f"/>
<circle cx="254.40" cy="416.60" r="1.05" fill="#e6307f"/>
<circle cx="254.40" cy="418.10" r="1.05" fill="#e6307f"/>
<circle cx="254.40" cy="419.60" r="1.05" fill="#e6307f"/>
<circle cx="254.40" cy="421.10" r="1.05" fill="#e6307f"/>
<circle cx="254.40" cy="422.60" r="1.05" fill="#e6307f"/>
<circle cx="254.40" cy="424.10" r="1.05" fill="#e6307f"/>
<circle cx="254.40" cy="426.00" r="1.05" fill="#e6307f"/>
<circle cx="254.40" cy="428.00" r="1.05" fill="#e6307f"/>
<circle cx="254.40" cy="430.20" r="1.05" fill="#e6307f"/>
<circle cx="254.40" cy="434.30" r="1.05" fill="#e6307f"/>
<line x1="243.60" y1="408.00" x2="243.60" y2="415.90" stroke="#000" stroke-width="1.6"/>
<text x="277.20" y="344.20" font-size="13" fill="#000" font-weight="bold" stroke="#000" stroke-width="0.35">g</text>
<line x1="310.50" y1="354.90" x2="310.50" y2="494.10" stroke="#777777" stroke-width="1"/>
<line x1="306.50" y1="377.50" x2="311.00" y2="377.50" stroke="#777777" stroke-width="1"/>
<text x="292.30" y="380.30" font-size="7.8" fill="#262626" font-weight="normal" textLength="10.40" lengthAdjust="spacingAndGlyphs">1.5</text>
<line x1="306.50" y1="416.50" x2="311.00" y2="416.50" stroke="#777777" stroke-width="1"/>
<text x="292.30" y="419.30" font-size="7.8" fill="#262626" font-weight="normal" textLength="10.40" lengthAdjust="spacingAndGlyphs">1.0</text>
<line x1="306.50" y1="455.50" x2="311.00" y2="455.50" stroke="#777777" stroke-width="1"/>
<text x="292.30" y="458.30" font-size="7.8" fill="#262626" font-weight="normal" textLength="10.40" lengthAdjust="spacingAndGlyphs">0.5</text>
<line x1="306.50" y1="494.50" x2="311.00" y2="494.50" stroke="#777777" stroke-width="1"/>
<text x="298.55" y="497.30" font-size="7.8" fill="#262626" font-weight="normal" textLength="4.15" lengthAdjust="spacingAndGlyphs">0</text>
<line x1="310.00" y1="494.50" x2="404.80" y2="494.50" stroke="#777777" stroke-width="1"/>
<rect x="314.80" y="438.20" width="38.50" height="55.90" fill="#c8cbe6" stroke="#b3b7df" stroke-width="1"/>
<rect x="361.80" y="437.40" width="38.30" height="56.70" fill="#f8bcd6" stroke="#f07cb0" stroke-width="1"/>
<text x="344.60" y="343.80" font-size="7.8" font-style="italic" fill="#262626" textLength="4.1" lengthAdjust="spacingAndGlyphs">P</text>
<text x="352.90" y="343.60" font-size="7.0" fill="#262626" textLength="3.1" lengthAdjust="spacingAndGlyphs">=</text>
<text x="358.00" y="343.80" font-size="8.0" fill="#262626" textLength="15.70" lengthAdjust="spacingAndGlyphs">0.02</text>
<line x1="337.20" y1="348.50" x2="379.40" y2="348.50" stroke="#6a6a6a" stroke-width="1.0"/>
<text transform="translate(284.84,470.50) rotate(-90)" x="0" y="0" font-size="8.6" fill="#262626" textLength="92.00" lengthAdjust="spacingAndGlyphs">Signal separation (a.u.)</text>
<rect x="347.35" y="357.15" width="1.5" height="1.5" fill="#4a54a6" opacity="0.9"/>
<rect x="346.99" y="401.85" width="1.5" height="1.5" fill="#4a54a6" opacity="0.9"/>
<rect x="346.93" y="403.95" width="1.5" height="1.5" fill="#4a54a6" opacity="0.9"/>
<rect x="346.78" y="415.95" width="1.5" height="1.5" fill="#4a54a6" opacity="0.9"/>
<rect x="347.37" y="425.95" width="1.5" height="1.5" fill="#4a54a6" opacity="0.9"/>
<rect x="346.88" y="427.65" width="1.5" height="1.5" fill="#4a54a6" opacity="0.9"/>
<rect x="347.52" y="431.75" width="1.5" height="1.5" fill="#4a54a6" opacity="0.9"/>
<rect x="347.16" y="435.25" width="1.5" height="1.5" fill="#4a54a6" opacity="0.9"/>
<rect x="346.79" y="436.95" width="1.5" height="1.5" fill="#4a54a6" opacity="0.9"/>
<rect x="346.88" y="438.30" width="1.5" height="1.5" fill="#4a54a6" opacity="0.9"/>
<rect x="347.52" y="439.66" width="1.5" height="1.5" fill="#4a54a6" opacity="0.9"/>
<rect x="347.44" y="441.01" width="1.5" height="1.5" fill="#4a54a6" opacity="0.9"/>
<rect x="347.51" y="442.37" width="1.5" height="1.5" fill="#4a54a6" opacity="0.9"/>
<rect x="346.58" y="443.72" width="1.5" height="1.5" fill="#4a54a6" opacity="0.9"/>
<rect x="346.81" y="445.08" width="1.5" height="1.5" fill="#4a54a6" opacity="0.9"/>
<rect x="347.45" y="446.43" width="1.5" height="1.5" fill="#4a54a6" opacity="0.9"/>
<rect x="346.85" y="447.79" width="1.5" height="1.5" fill="#4a54a6" opacity="0.9"/>
<rect x="347.09" y="449.14" width="1.5" height="1.5" fill="#4a54a6" opacity="0.9"/>
<rect x="346.86" y="450.50" width="1.5" height="1.5" fill="#4a54a6" opacity="0.9"/>
<rect x="347.17" y="451.85" width="1.5" height="1.5" fill="#4a54a6" opacity="0.9"/>
<rect x="347.05" y="457.15" width="1.5" height="1.5" fill="#4a54a6" opacity="1.0"/>
<line x1="334.10" y1="436.00" x2="334.10" y2="440.40" stroke="#000" stroke-width="1.6"/>
<rect x="392.48" y="379.05" width="1.5" height="1.5" fill="#e6307f" opacity="0.9"/>
<rect x="392.38" y="398.05" width="1.5" height="1.5" fill="#e6307f" opacity="0.9"/>
<rect x="392.08" y="418.85" width="1.5" height="1.5" fill="#e6307f" opacity="0.9"/>
<rect x="392.11" y="422.05" width="1.5" height="1.5" fill="#e6307f" opacity="0.9"/>
<rect x="391.69" y="423.25" width="1.5" height="1.5" fill="#e6307f" opacity="0.9"/>
<rect x="392.33" y="424.46" width="1.5" height="1.5" fill="#e6307f" opacity="0.9"/>
<rect x="392.10" y="425.66" width="1.5" height="1.5" fill="#e6307f" opacity="0.9"/>
<rect x="391.66" y="426.86" width="1.5" height="1.5" fill="#e6307f" opacity="0.9"/>
<rect x="391.72" y="428.07" width="1.5" height="1.5" fill="#e6307f" opacity="0.9"/>
<rect x="391.88" y="429.27" width="1.5" height="1.5" fill="#e6307f" opacity="0.9"/>
<rect x="392.06" y="430.48" width="1.5" height="1.5" fill="#e6307f" opacity="0.9"/>
<rect x="392.15" y="431.68" width="1.5" height="1.5" fill="#e6307f" opacity="0.9"/>
<rect x="392.30" y="432.88" width="1.5" height="1.5" fill="#e6307f" opacity="0.9"/>
<rect x="392.58" y="434.09" width="1.5" height="1.5" fill="#e6307f" opacity="0.9"/>
<rect x="391.80" y="435.29" width="1.5" height="1.5" fill="#e6307f" opacity="0.9"/>
<rect x="391.84" y="436.49" width="1.5" height="1.5" fill="#e6307f" opacity="0.9"/>
<rect x="392.07" y="437.70" width="1.5" height="1.5" fill="#e6307f" opacity="0.9"/>
<rect x="392.05" y="438.90" width="1.5" height="1.5" fill="#e6307f" opacity="0.9"/>
<rect x="392.42" y="440.11" width="1.5" height="1.5" fill="#e6307f" opacity="0.9"/>
<rect x="392.55" y="441.31" width="1.5" height="1.5" fill="#e6307f" opacity="0.9"/>
<rect x="392.24" y="442.51" width="1.5" height="1.5" fill="#e6307f" opacity="0.9"/>
<rect x="392.34" y="443.72" width="1.5" height="1.5" fill="#e6307f" opacity="0.9"/>
<rect x="392.40" y="444.92" width="1.5" height="1.5" fill="#e6307f" opacity="0.9"/>
<rect x="391.74" y="446.12" width="1.5" height="1.5" fill="#e6307f" opacity="0.9"/>
<rect x="392.01" y="447.33" width="1.5" height="1.5" fill="#e6307f" opacity="0.9"/>
<rect x="392.02" y="448.53" width="1.5" height="1.5" fill="#e6307f" opacity="0.9"/>
<rect x="391.73" y="449.74" width="1.5" height="1.5" fill="#e6307f" opacity="0.9"/>
<rect x="391.96" y="450.94" width="1.5" height="1.5" fill="#e6307f" opacity="0.9"/>
<rect x="391.83" y="452.14" width="1.5" height="1.5" fill="#e6307f" opacity="0.9"/>
<rect x="392.31" y="453.35" width="1.5" height="1.5" fill="#e6307f" opacity="0.9"/>
<rect x="391.94" y="454.55" width="1.5" height="1.5" fill="#e6307f" opacity="0.9"/>
<rect x="391.99" y="456.25" width="1.5" height="1.5" fill="#e6307f" opacity="0.9"/>
<rect x="392.59" y="460.15" width="1.5" height="1.5" fill="#e6307f" opacity="0.9"/>
<line x1="381.10" y1="435.10" x2="381.10" y2="439.50" stroke="#000" stroke-width="1.6"/>
<text x="414.50" y="344.20" font-size="13" fill="#000" font-weight="bold" stroke="#000" stroke-width="0.35">h</text>
<line x1="447.50" y1="354.90" x2="447.50" y2="494.10" stroke="#777777" stroke-width="1"/>
<line x1="443.50" y1="354.50" x2="448.00" y2="354.50" stroke="#777777" stroke-width="1"/>
<text x="429.30" y="357.30" font-size="7.8" fill="#262626" font-weight="normal" textLength="10.40" lengthAdjust="spacingAndGlyphs">3.0</text>
<line x1="443.50" y1="378.50" x2="448.00" y2="378.50" stroke="#777777" stroke-width="1"/>
<text x="429.30" y="381.30" font-size="7.8" fill="#262626" font-weight="normal" textLength="10.40" lengthAdjust="spacingAndGlyphs">2.5</text>
<line x1="443.50" y1="401.50" x2="448.00" y2="401.50" stroke="#777777" stroke-width="1"/>
<text x="429.30" y="404.30" font-size="7.8" fill="#262626" font-weight="normal" textLength="10.40" lengthAdjust="spacingAndGlyphs">2.0</text>
<line x1="443.50" y1="424.50" x2="448.00" y2="424.50" stroke="#777777" stroke-width="1"/>
<text x="429.30" y="427.30" font-size="7.8" fill="#262626" font-weight="normal" textLength="10.40" lengthAdjust="spacingAndGlyphs">1.5</text>
<line x1="443.50" y1="447.50" x2="448.00" y2="447.50" stroke="#777777" stroke-width="1"/>
<text x="429.30" y="450.30" font-size="7.8" fill="#262626" font-weight="normal" textLength="10.40" lengthAdjust="spacingAndGlyphs">1.0</text>
<line x1="443.50" y1="470.50" x2="448.00" y2="470.50" stroke="#777777" stroke-width="1"/>
<text x="429.30" y="473.30" font-size="7.8" fill="#262626" font-weight="normal" textLength="10.40" lengthAdjust="spacingAndGlyphs">0.5</text>
<line x1="443.50" y1="494.50" x2="448.00" y2="494.50" stroke="#777777" stroke-width="1"/>
<text x="435.55" y="497.30" font-size="7.8" fill="#262626" font-weight="normal" textLength="4.15" lengthAdjust="spacingAndGlyphs">0</text>
<line x1="447.00" y1="494.50" x2="541.30" y2="494.50" stroke="#777777" stroke-width="1"/>
<rect x="451.50" y="385.20" width="38.80" height="108.90" fill="#c8cbe6" stroke="#8f95cf" stroke-width="1"/>
<rect x="498.80" y="489.20" width="38.30" height="4.90" fill="#f8bcd6" stroke="#f07cb0" stroke-width="1"/>
<text x="447.80" y="352.60" font-size="7.2" fill="#262626" font-weight="normal" textLength="13.20" lengthAdjust="spacingAndGlyphs">1e-2</text>
<text x="482.10" y="343.80" font-size="7.8" font-style="italic" fill="#262626" textLength="4.1" lengthAdjust="spacingAndGlyphs">P</text>
<text x="488.90" y="343.60" font-size="7.0" fill="#262626" textLength="3.1" lengthAdjust="spacingAndGlyphs">&lt;</text>
<text x="494.50" y="343.80" font-size="8.0" fill="#262626" textLength="19.30" lengthAdjust="spacingAndGlyphs">0.001</text>
<line x1="475.90" y1="348.50" x2="518.20" y2="348.50" stroke="#6a6a6a" stroke-width="1.0"/>
<text transform="translate(421.54,473.00) rotate(-90)" x="0" y="0" font-size="8.6" fill="#262626" textLength="95.70" lengthAdjust="spacingAndGlyphs">Response variance (a.u.)</text>
<rect x="484.26" y="362.85" width="1.5" height="1.5" fill="#4a54a6" opacity="0.8"/>
<rect x="485.00" y="364.75" width="1.5" height="1.5" fill="#4a54a6" opacity="0.8"/>
<rect x="484.46" y="366.95" width="1.5" height="1.5" fill="#4a54a6" opacity="0.8"/>
<rect x="484.29" y="369.55" width="1.5" height="1.5" fill="#4a54a6" opacity="0.8"/>
<rect x="484.76" y="375.75" width="1.5" height="1.5" fill="#4a54a6" opacity="0.8"/>
<rect x="483.78" y="376.77" width="1.5" height="1.5" fill="#4a54a6" opacity="0.8"/>
<rect x="484.88" y="377.79" width="1.5" height="1.5" fill="#4a54a6" opacity="0.8"/>
<rect x="484.11" y="378.82" width="1.5" height="1.5" fill="#4a54a6" opacity="0.8"/>
<rect x="483.55" y="379.84" width="1.5" height="1.5" fill="#4a54a6" opacity="0.8"/>
<rect x="484.35" y="380.86" width="1.5" height="1.5" fill="#4a54a6" opacity="0.8"/>
<rect x="483.62" y="381.88" width="1.5" height="1.5" fill="#4a54a6" opacity="0.8"/>
<rect x="484.36" y="382.90" width="1.5" height="1.5" fill="#4a54a6" opacity="0.8"/>
<rect x="484.46" y="383.92" width="1.5" height="1.5" fill="#4a54a6" opacity="0.8"/>
<rect x="484.61" y="384.95" width="1.5" height="1.5" fill="#4a54a6" opacity="0.8"/>
<rect x="484.56" y="385.97" width="1.5" height="1.5" fill="#4a54a6" opacity="0.8"/>
<rect x="483.47" y="386.99" width="1.5" height="1.5" fill="#4a54a6" opacity="0.8"/>
<rect x="483.45" y="388.01" width="1.5" height="1.5" fill="#4a54a6" opacity="0.8"/>
<rect x="484.59" y="389.03" width="1.5" height="1.5" fill="#4a54a6" opacity="0.8"/>
<rect x="484.33" y="390.05" width="1.5" height="1.5" fill="#4a54a6" opacity="0.8"/>
<rect x="484.92" y="391.08" width="1.5" height="1.5" fill="#4a54a6" opacity="0.8"/>
<rect x="484.09" y="392.10" width="1.5" height="1.5" fill="#4a54a6" opacity="0.8"/>
<rect x="483.61" y="393.12" width="1.5" height="1.5" fill="#4a54a6" opacity="0.8"/>
<rect x="483.47" y="394.14" width="1.5" height="1.5" fill="#4a54a6" opacity="0.8"/>
<rect x="483.50" y="395.16" width="1.5" height="1.5" fill="#4a54a6" opacity="0.8"/>
<rect x="483.73" y="396.18" width="1.5" height="1.5" fill="#4a54a6" opacity="0.8"/>
<rect x="484.68" y="397.21" width="1.5" height="1.5" fill="#4a54a6" opacity="0.8"/>
<rect x="484.36" y="398.23" width="1.5" height="1.5" fill="#4a54a6" opacity="0.8"/>
<rect x="484.84" y="399.25" width="1.5" height="1.5" fill="#4a54a6" opacity="0.8"/>
<rect x="484.88" y="406.45" width="1.5" height="1.5" fill="#4a54a6" opacity="0.8"/>
<rect x="484.27" y="413.55" width="1.5" height="1.5" fill="#4a54a6" opacity="0.8"/>
<line x1="471.30" y1="383.40" x2="471.30" y2="386.90" stroke="#000" stroke-width="1.6"/>
<rect x="528.80" y="485.20" width="1.6" height="1.6" fill="#e6307f" opacity="1.0"/>
<rect x="528.80" y="486.05" width="1.6" height="1.6" fill="#e6307f" opacity="1.0"/>
<rect x="528.80" y="486.90" width="1.6" height="1.6" fill="#e6307f" opacity="1.0"/>
<rect x="528.80" y="487.75" width="1.6" height="1.6" fill="#e6307f" opacity="1.0"/>
<rect x="528.80" y="488.60" width="1.6" height="1.6" fill="#e6307f" opacity="1.0"/>
<rect x="528.80" y="489.45" width="1.6" height="1.6" fill="#e6307f" opacity="1.0"/>
<rect x="528.80" y="490.30" width="1.6" height="1.6" fill="#e6307f" opacity="1.0"/>
<line x1="514.00" y1="489.20" x2="518.00" y2="489.20" stroke="#000" stroke-width="0.5"/>
<text x="554.00" y="344.20" font-size="13" fill="#000" font-weight="bold" stroke="#000" stroke-width="0.35">i</text>
<line x1="586.50" y1="353.90" x2="586.50" y2="493.60" stroke="#777777" stroke-width="1"/>
<line x1="582.50" y1="493.50" x2="587.00" y2="493.50" stroke="#777777" stroke-width="1"/>
<text x="574.55" y="496.30" font-size="7.8" fill="#262626" font-weight="normal" textLength="4.15" lengthAdjust="spacingAndGlyphs">0</text>
<line x1="582.50" y1="462.50" x2="587.00" y2="462.50" stroke="#777777" stroke-width="1"/>
<text x="570.40" y="465.30" font-size="7.8" fill="#262626" font-weight="normal" textLength="8.30" lengthAdjust="spacingAndGlyphs">20</text>
<line x1="582.50" y1="431.50" x2="587.00" y2="431.50" stroke="#777777" stroke-width="1"/>
<text x="570.40" y="434.30" font-size="7.8" fill="#262626" font-weight="normal" textLength="8.30" lengthAdjust="spacingAndGlyphs">40</text>
<line x1="582.50" y1="400.50" x2="587.00" y2="400.50" stroke="#777777" stroke-width="1"/>
<text x="570.40" y="403.30" font-size="7.8" fill="#262626" font-weight="normal" textLength="8.30" lengthAdjust="spacingAndGlyphs">60</text>
<line x1="582.50" y1="369.50" x2="587.00" y2="369.50" stroke="#777777" stroke-width="1"/>
<text x="570.40" y="372.30" font-size="7.8" fill="#262626" font-weight="normal" textLength="8.30" lengthAdjust="spacingAndGlyphs">80</text>
<line x1="586.00" y1="493.50" x2="680.80" y2="493.50" stroke="#777777" stroke-width="1"/>
<rect x="612.70" y="422.40" width="41.40" height="71.20" fill="#d4d4d4" stroke="#606060" stroke-width="1"/>
<rect x="641.15" y="393.65" width="1.5" height="1.5" fill="#444" opacity="1.0"/>
<rect x="641.15" y="395.35" width="1.5" height="1.5" fill="#444" opacity="1.0"/>
<rect x="641.15" y="399.25" width="1.5" height="1.5" fill="#444" opacity="1.0"/>
<rect x="641.15" y="402.75" width="1.5" height="1.5" fill="#444" opacity="1.0"/>
<rect x="641.15" y="405.85" width="1.5" height="1.5" fill="#444" opacity="1.0"/>
<rect x="641.15" y="407.05" width="1.5" height="1.5" fill="#444" opacity="1.0"/>
<rect x="641.15" y="408.46" width="1.5" height="1.5" fill="#444" opacity="1.0"/>
<rect x="641.15" y="409.87" width="1.5" height="1.5" fill="#444" opacity="1.0"/>
<rect x="641.15" y="411.29" width="1.5" height="1.5" fill="#444" opacity="1.0"/>
<rect x="641.15" y="412.70" width="1.5" height="1.5" fill="#444" opacity="1.0"/>
<rect x="641.15" y="414.11" width="1.5" height="1.5" fill="#444" opacity="1.0"/>
<rect x="641.15" y="415.52" width="1.5" height="1.5" fill="#444" opacity="1.0"/>
<rect x="641.15" y="416.93" width="1.5" height="1.5" fill="#444" opacity="1.0"/>
<rect x="641.15" y="418.34" width="1.5" height="1.5" fill="#444" opacity="1.0"/>
<rect x="641.15" y="419.76" width="1.5" height="1.5" fill="#444" opacity="1.0"/>
<rect x="641.15" y="421.17" width="1.5" height="1.5" fill="#444" opacity="1.0"/>
<rect x="641.15" y="422.58" width="1.5" height="1.5" fill="#444" opacity="1.0"/>
<rect x="641.15" y="423.99" width="1.5" height="1.5" fill="#444" opacity="1.0"/>
<rect x="641.15" y="425.40" width="1.5" height="1.5" fill="#444" opacity="1.0"/>
<rect x="641.15" y="426.81" width="1.5" height="1.5" fill="#444" opacity="1.0"/>
<rect x="641.15" y="428.23" width="1.5" height="1.5" fill="#444" opacity="1.0"/>
<rect x="641.15" y="429.64" width="1.5" height="1.5" fill="#444" opacity="1.0"/>
<rect x="641.15" y="431.05" width="1.5" height="1.5" fill="#444" opacity="1.0"/>
<rect x="641.15" y="435.75" width="1.5" height="1.5" fill="#444" opacity="1.0"/>
<rect x="641.15" y="436.85" width="1.5" height="1.5" fill="#444" opacity="1.0"/>
<rect x="641.15" y="440.15" width="1.5" height="1.5" fill="#444" opacity="1.0"/>
<rect x="641.15" y="447.45" width="1.5" height="1.5" fill="#444" opacity="1.0"/>
<rect x="641.15" y="455.55" width="1.5" height="1.5" fill="#444" opacity="1.0"/>
<rect x="641.15" y="457.75" width="1.5" height="1.5" fill="#444" opacity="1.0"/>
<line x1="633.70" y1="418.30" x2="633.70" y2="426.50" stroke="#000" stroke-width="1.3"/>
<text transform="translate(562.34,471.10) rotate(-90)" x="0" y="0" font-size="8.6" fill="#262626" textLength="94.80" lengthAdjust="spacingAndGlyphs">Signal rotation angle (°)</text>
<defs><marker id="ah" viewBox="0 0 10 10" refX="9" refY="5" markerWidth="4" markerHeight="4" orient="auto-start-reverse"><path d="M0,0 L10,5 L0,10 z" fill="#e8443a"/></marker><marker id="ahk" viewBox="0 0 10 10" refX="9" refY="5" markerWidth="4" markerHeight="4" orient="auto-start-reverse"><path d="M0,0 L10,5 L0,10 z" fill="#111"/></marker><marker id="ahb" viewBox="0 0 10 10" refX="5" refY="5" markerWidth="3" markerHeight="3" orient="auto-start-reverse"><path d="M0,0 L10,5 L0,10 z" fill="#111"/></marker></defs>
<ellipse cx="625.1" cy="338.3" rx="23.3" ry="9.8" transform="rotate(-44 625.1 338.3)" fill="none" stroke="#e8309a" stroke-width="1.1"/>
<ellipse cx="666.9" cy="357.2" rx="23.3" ry="9.8" transform="rotate(-44 666.9 357.2)" fill="none" stroke="#e8309a" stroke-width="1.1"/>
<ellipse cx="664.0" cy="332.2" rx="23.0" ry="9.8" transform="rotate(-47 664.0 332.2)" fill="none" stroke="#5566c4" stroke-width="0.9"/>
<ellipse cx="628.6" cy="364.5" rx="23.0" ry="9.8" transform="rotate(-47 628.6 364.5)" fill="none" stroke="#5566c4" stroke-width="0.9"/>
<line x1="645.9" y1="348.1" x2="627.07" y2="339.56" stroke="#e23a32" stroke-width="0.9" marker-end="url(#ah)"/>
<line x1="645.9" y1="348.1" x2="664.73" y2="356.37" stroke="#e23a32" stroke-width="0.9" marker-end="url(#ah)"/>
<line x1="645.9" y1="348.1" x2="660.86" y2="334.28" stroke="#e23a32" stroke-width="0.9" marker-end="url(#ah)"/>
<line x1="645.9" y1="348.1" x2="630.76" y2="362.80" stroke="#e23a32" stroke-width="0.9" marker-end="url(#ah)"/>
<circle cx="624.50" cy="338.40" r="1.5" fill="#e8309a"/>
<circle cx="667.30" cy="357.50" r="1.5" fill="#e8309a"/>
<circle cx="662.90" cy="332.40" r="1.1" fill="#5566c4"/>
<circle cx="628.70" cy="364.80" r="1.1" fill="#5566c4"/>
<path d="M640.6,346.2 Q645.5,338.2 650.8,345.6" fill="none" stroke="#e23a32" stroke-width="0.9"/>
<text x="641.6" y="341.8" font-size="9.6" fill="#111" style="font-family:'Liberation Serif',serif">Δ<tspan font-style="italic">θ</tspan></text>
<path d="M668.8,311.5 Q651,299 634.5,313" fill="none" stroke="#111" stroke-width="1.6" marker-end="url(#ahb)"/>
<path d="M636.5,380.3 Q653.5,393 671.2,380.8" fill="none" stroke="#111" stroke-width="1.6" marker-end="url(#ahb)"/>
<text x="0.00" y="519.20" font-size="13" fill="#000" font-weight="bold" stroke="#000" stroke-width="0.35">j</text>
<line x1="38.50" y1="536.10" x2="38.50" y2="657.00" stroke="#777777" stroke-width="1"/>
<line x1="34.50" y1="550.50" x2="39.00" y2="550.50" stroke="#777777" stroke-width="1"/>
<text x="22.40" y="553.30" font-size="7.8" fill="#262626" font-weight="normal" textLength="8.30" lengthAdjust="spacingAndGlyphs">30</text>
<line x1="34.50" y1="584.50" x2="39.00" y2="584.50" stroke="#777777" stroke-width="1"/>
<text x="22.40" y="587.30" font-size="7.8" fill="#262626" font-weight="normal" textLength="8.30" lengthAdjust="spacingAndGlyphs">20</text>
<line x1="34.50" y1="618.50" x2="39.00" y2="618.50" stroke="#777777" stroke-width="1"/>
<text x="22.40" y="621.30" font-size="7.8" fill="#262626" font-weight="normal" textLength="8.30" lengthAdjust="spacingAndGlyphs">10</text>
<line x1="34.50" y1="652.50" x2="39.00" y2="652.50" stroke="#777777" stroke-width="1"/>
<text x="26.55" y="655.30" font-size="7.8" fill="#262626" font-weight="normal" textLength="4.15" lengthAdjust="spacingAndGlyphs">0</text>
<line x1="38.00" y1="657.50" x2="216.20" y2="657.50" stroke="#777777" stroke-width="1"/>
<line x1="46.50" y1="657.50" x2="46.50" y2="661.50" stroke="#777777" stroke-width="1"/>
<text x="44.52" y="671.70" font-size="7.8" fill="#262626" font-weight="normal" textLength="4.15" lengthAdjust="spacingAndGlyphs">1</text>
<line x1="73.50" y1="657.50" x2="73.50" y2="661.50" stroke="#777777" stroke-width="1"/>
<text x="71.72" y="671.70" font-size="7.8" fill="#262626" font-weight="normal" textLength="4.15" lengthAdjust="spacingAndGlyphs">2</text>
<line x1="110.50" y1="657.50" x2="110.50" y2="661.50" stroke="#777777" stroke-width="1"/>
<text x="108.33" y="671.70" font-size="7.8" fill="#262626" font-weight="normal" textLength="4.15" lengthAdjust="spacingAndGlyphs">5</text>
<line x1="137.50" y1="657.50" x2="137.50" y2="661.50" stroke="#777777" stroke-width="1"/>
<text x="133.45" y="671.70" font-size="7.8" fill="#262626" font-weight="normal" textLength="8.30" lengthAdjust="spacingAndGlyphs">10</text>
<line x1="165.50" y1="657.50" x2="165.50" y2="661.50" stroke="#777777" stroke-width="1"/>
<text x="160.95" y="671.70" font-size="7.8" fill="#262626" font-weight="normal" textLength="8.30" lengthAdjust="spacingAndGlyphs">20</text>
<line x1="201.50" y1="657.50" x2="201.50" y2="661.50" stroke="#777777" stroke-width="1"/>
<text x="197.25" y="671.70" font-size="7.8" fill="#262626" font-weight="normal" textLength="8.30" lengthAdjust="spacingAndGlyphs">50</text>
<text x="109.70" y="684.00" font-size="8.8" fill="#262626" font-weight="normal" textLength="35.00" lengthAdjust="spacingAndGlyphs">PC index</text>
<text transform="translate(15.14,631.40) rotate(-90)" x="0" y="0" font-size="8.6" fill="#262626" textLength="69.00" lengthAdjust="spacingAndGlyphs">PC variance (a.u.)</text>
<path d="M46.6,630.4 C51.13,631.70 66.63,636.22 73.80,638.20 C80.97,640.18 83.50,640.92 89.60,642.30 C95.70,643.68 102.30,645.25 110.40,646.50 C118.50,647.75 128.95,649.02 138.20,649.80 C147.45,650.58 154.12,650.87 165.90,651.20 C177.68,651.53 201.73,651.70 208.90,651.80" fill="none" stroke="#e6307f" stroke-width="1.5"/>
<path d="M46.6,544.4 C51.13,550.00 66.63,569.07 73.80,578.00 C80.97,586.93 83.50,590.97 89.60,598.00 C95.70,605.03 104.62,614.52 110.40,620.20 C116.18,625.88 119.67,629.02 124.30,632.10 C128.93,635.18 133.58,636.67 138.20,638.70 C142.82,640.73 147.38,642.77 152.00,644.30 C156.62,645.83 161.27,646.98 165.90,647.90 C170.53,648.82 172.63,649.20 179.80,649.80 C186.97,650.40 204.05,651.22 208.90,651.50" fill="none" stroke="#4a54a6" stroke-width="1.5"/>
<line x1="46.60" y1="541.10" x2="46.60" y2="547.40" stroke="#4a54a6" stroke-width="1.2"/>
<line x1="73.80" y1="576.20" x2="73.80" y2="579.80" stroke="#4a54a6" stroke-width="1"/>
<line x1="46.60" y1="627.10" x2="46.60" y2="633.40" stroke="#e6307f" stroke-width="1.2"/>
<line x1="73.80" y1="636.60" x2="73.80" y2="639.80" stroke="#e6307f" stroke-width="1"/>
<line x1="169.20" y1="544.20" x2="186.70" y2="544.20" stroke="#4a54a6" stroke-width="1.4"/>
<line x1="178.00" y1="540.40" x2="178.00" y2="548.10" stroke="#4a54a6" stroke-width="1.4"/>
<line x1="169.20" y1="556.70" x2="186.70" y2="556.70" stroke="#e6307f" stroke-width="1.4"/>
<line x1="178.00" y1="553.00" x2="178.00" y2="560.80" stroke="#e6307f" stroke-width="1.4"/>
<text x="191.70" y="546.90" font-size="8.2" fill="#262626" font-weight="normal" textLength="12.10" lengthAdjust="spacingAndGlyphs">Pre</text>
<text x="191.70" y="559.40" font-size="8.2" fill="#262626" font-weight="normal" textLength="16.30" lengthAdjust="spacingAndGlyphs">Post</text>
<text x="227.00" y="519.20" font-size="13" fill="#000" font-weight="bold" stroke="#000" stroke-width="0.35">k</text>
<line x1="268.50" y1="535.90" x2="268.50" y2="657.00" stroke="#777777" stroke-width="1"/>
<line x1="264.50" y1="535.50" x2="269.00" y2="535.50" stroke="#777777" stroke-width="1"/>
<text x="252.40" y="538.30" font-size="7.8" fill="#262626" font-weight="normal" textLength="8.30" lengthAdjust="spacingAndGlyphs">90</text>
<line x1="264.50" y1="576.50" x2="269.00" y2="576.50" stroke="#777777" stroke-width="1"/>
<text x="252.40" y="579.30" font-size="7.8" fill="#262626" font-weight="normal" textLength="8.30" lengthAdjust="spacingAndGlyphs">60</text>
<line x1="264.50" y1="616.50" x2="269.00" y2="616.50" stroke="#777777" stroke-width="1"/>
<text x="252.40" y="619.30" font-size="7.8" fill="#262626" font-weight="normal" textLength="8.30" lengthAdjust="spacingAndGlyphs">30</text>
<line x1="264.50" y1="657.50" x2="269.00" y2="657.50" stroke="#777777" stroke-width="1"/>
<text x="256.55" y="660.30" font-size="7.8" fill="#262626" font-weight="normal" textLength="4.15" lengthAdjust="spacingAndGlyphs">0</text>
<line x1="268.00" y1="657.50" x2="446.00" y2="657.50" stroke="#777777" stroke-width="1"/>
<line x1="273.50" y1="657.50" x2="273.50" y2="661.50" stroke="#777777" stroke-width="1"/>
<text x="271.53" y="671.70" font-size="7.8" fill="#262626" font-weight="normal" textLength="4.15" lengthAdjust="spacingAndGlyphs">0</text>
<line x1="328.50" y1="657.50" x2="328.50" y2="661.50" stroke="#777777" stroke-width="1"/>
<text x="324.45" y="671.70" font-size="7.8" fill="#262626" font-weight="normal" textLength="8.30" lengthAdjust="spacingAndGlyphs">20</text>
<line x1="383.50" y1="657.50" x2="383.50" y2="661.50" stroke="#777777" stroke-width="1"/>
<text x="379.45" y="671.70" font-size="7.8" fill="#262626" font-weight="normal" textLength="8.30" lengthAdjust="spacingAndGlyphs">40</text>
<line x1="438.50" y1="657.50" x2="438.50" y2="661.50" stroke="#777777" stroke-width="1"/>
<text x="434.45" y="671.70" font-size="7.8" fill="#262626" font-weight="normal" textLength="8.30" lengthAdjust="spacingAndGlyphs">60</text>
<text x="339.80" y="684.00" font-size="8.8" fill="#262626" font-weight="normal" textLength="35.10" lengthAdjust="spacingAndGlyphs">PC index</text>
<text transform="translate(235.44,634.20) rotate(-90)" x="0" y="0" font-size="8.6" fill="#262626" textLength="75.30" lengthAdjust="spacingAndGlyphs">Covariance rotation</text>
<text transform="translate(244.84,613.20) rotate(-90)" x="0" y="0" font-size="8.6" fill="#262626" textLength="32.90" lengthAdjust="spacingAndGlyphs">angle (°)</text>
<polyline points="276.50,584.40 278.20,571.60 280.30,563.20 282.40,557.90 284.50,554.70 286.60,553.20 290.90,554.30 295.10,553.00 299.40,550.90 301.50,549.40 305.50,549.20 310.90,548.40 316.30,547.30 321.70,546.20 325.80,545.40 328.50,546.70 332.50,544.60 335.20,544.04 337.90,543.62 340.60,543.80 344.20,543.76 347.80,543.03 351.40,542.70 354.10,542.73 356.80,542.68 359.50,543.00 362.20,543.15 364.90,543.03 367.60,542.40 371.20,541.94 374.80,542.43 378.40,542.20 381.10,542.28 383.80,542.13 386.50,541.90 389.20,541.90 391.90,541.66 394.60,541.79 397.30,541.02 400.00,541.30 402.70,541.63 405.40,540.93 408.10,541.00 410.80,541.30 413.50,541.14 416.20,540.76 418.90,541.49 421.60,541.10 424.84,540.95 428.08,540.86 431.32,540.77 434.56,541.19 437.80,540.80" fill="none" stroke="#858585" stroke-width="1.4" stroke-linejoin="round"/>
<ellipse cx="399.9" cy="620.2" rx="42.0" ry="14.6" transform="rotate(-45 399.9 620.2)" fill="none" stroke="#4a55b0" stroke-width="1.6"/>
<ellipse cx="400.1" cy="620.4" rx="31.4" ry="10.2" transform="rotate(42.4 400.1 620.4)" fill="none" stroke="#e8307f" stroke-width="1.3"/>
<line x1="399.5" y1="620.4" x2="379.4" y2="600.2" stroke="#111" stroke-width="0.9" marker-end="url(#ahk)"/>
<line x1="399.5" y1="620.4" x2="429.1" y2="591.9" stroke="#111" stroke-width="0.9" marker-end="url(#ahk)"/>
<path d="M394.4,615.0 Q399.5,608.2 405.6,614.3" fill="none" stroke="#e23a32" stroke-width="1.0"/>
<circle cx="399.50" cy="620.40" r="2.1" fill="#111"/>
<text x="397.6" y="633.4" font-size="10" fill="#111" style="font-family:'Liberation Serif',serif">Δ<tspan font-style="italic">θ</tspan></text>
<path d="M420.8,585.8 Q404,574 384,592" fill="none" stroke="#111" stroke-width="1.7" marker-end="url(#ahb)"/>
<path d="M461.10,510.60 L461.10,517.00 Q461.10,518.60 463.70,518.60" fill="none" stroke="#000" stroke-width="2.5"/>
<line x1="510.50" y1="519.50" x2="510.50" y2="665.50" stroke="#777777" stroke-width="1"/>
<line x1="506.50" y1="520.50" x2="511.00" y2="520.50" stroke="#777777" stroke-width="1"/>
<text x="491.70" y="523.10" font-size="7.8" fill="#262626" font-weight="normal" textLength="11.60" lengthAdjust="spacingAndGlyphs">2.0</text>
<line x1="506.50" y1="548.50" x2="511.00" y2="548.50" stroke="#777777" stroke-width="1"/>
<text x="491.70" y="551.10" font-size="7.8" fill="#262626" font-weight="normal" textLength="11.60" lengthAdjust="spacingAndGlyphs">1.5</text>
<line x1="506.50" y1="577.50" x2="511.00" y2="577.50" stroke="#777777" stroke-width="1"/>
<text x="491.70" y="580.10" font-size="7.8" fill="#262626" font-weight="normal" textLength="11.60" lengthAdjust="spacingAndGlyphs">1.0</text>
<line x1="506.50" y1="606.50" x2="511.00" y2="606.50" stroke="#777777" stroke-width="1"/>
<text x="491.70" y="609.10" font-size="7.8" fill="#262626" font-weight="normal" textLength="11.60" lengthAdjust="spacingAndGlyphs">0.5</text>
<line x1="506.50" y1="664.50" x2="511.00" y2="664.50" stroke="#777777" stroke-width="1"/>
<text x="487.60" y="667.10" font-size="7.8" fill="#262626" font-weight="normal" textLength="15.70" lengthAdjust="spacingAndGlyphs">−0.5</text>
<text x="497.80" y="639.00" font-size="8.2" fill="#6f7fd0" font-weight="normal" textLength="4.70" lengthAdjust="spacingAndGlyphs">0</text>
<text x="485.80" y="632.50" font-size="8.4" fill="#6f7fd0" font-weight="normal" textLength="13.20" lengthAdjust="spacingAndGlyphs">Pre</text>
<line x1="506.60" y1="635.50" x2="685.00" y2="635.50" stroke="#9ea8de" stroke-width="1"/>
<text transform="translate(479.84,635.60) rotate(-90)" x="0" y="0" font-size="8.6" fill="#262626" textLength="89.40" lengthAdjust="spacingAndGlyphs">Information gain (rad<tspan font-size="5.5" dy="-3">−2</tspan><tspan dy="3">)</tspan></text>
<rect x="518.20" y="635.80" width="36.50" height="2.00" fill="#f0dbb4" stroke="#e6c68e" stroke-width="0.7"/>
<rect x="559.60" y="590.40" width="35.50" height="45.40" fill="#b4ddf0" stroke="#72c0e6" stroke-width="1"/>
<rect x="599.90" y="579.20" width="35.60" height="56.60" fill="#bde0c2" stroke="#86c492" stroke-width="1"/>
<rect x="640.80" y="619.30" width="35.50" height="16.50" fill="#f8bcd6" stroke="#f07cb0" stroke-width="1"/>
<rect x="546.45" y="616.55" width="2.1" height="2.1" fill="#d9a23c" opacity="0.95"/>
<rect x="546.45" y="618.15" width="2.1" height="2.1" fill="#d9a23c" opacity="0.95"/>
<rect x="546.45" y="621.45" width="2.1" height="2.1" fill="#d9a23c" opacity="0.95"/>
<rect x="546.45" y="624.45" width="2.1" height="2.1" fill="#d9a23c" opacity="0.95"/>
<rect x="546.45" y="625.70" width="2.1" height="2.1" fill="#d9a23c" opacity="0.95"/>
<rect x="546.45" y="626.95" width="2.1" height="2.1" fill="#d9a23c" opacity="0.95"/>
<rect x="546.45" y="628.20" width="2.1" height="2.1" fill="#d9a23c" opacity="0.95"/>
<rect x="546.45" y="629.45" width="2.1" height="2.1" fill="#d9a23c" opacity="0.95"/>
<rect x="546.45" y="630.70" width="2.1" height="2.1" fill="#d9a23c" opacity="0.95"/>
<rect x="546.45" y="631.95" width="2.1" height="2.1" fill="#d9a23c" opacity="0.95"/>
<rect x="546.45" y="633.20" width="2.1" height="2.1" fill="#d9a23c" opacity="0.95"/>
<rect x="546.45" y="634.45" width="2.1" height="2.1" fill="#d9a23c" opacity="0.95"/>
<rect x="546.45" y="635.70" width="2.1" height="2.1" fill="#d9a23c" opacity="0.95"/>
<rect x="546.45" y="636.95" width="2.1" height="2.1" fill="#d9a23c" opacity="0.95"/>
<rect x="546.45" y="640.45" width="2.1" height="2.1" fill="#d9a23c" opacity="0.95"/>
<rect x="546.45" y="642.95" width="2.1" height="2.1" fill="#d9a23c" opacity="0.95"/>
<rect x="546.45" y="644.45" width="2.1" height="2.1" fill="#d9a23c" opacity="0.95"/>
<rect x="546.45" y="645.95" width="2.1" height="2.1" fill="#d9a23c" opacity="0.95"/>
<rect x="546.45" y="648.95" width="2.1" height="2.1" fill="#d9a23c" opacity="0.95"/>
<rect x="546.45" y="650.45" width="2.1" height="2.1" fill="#d9a23c" opacity="0.95"/>
<rect x="546.45" y="651.95" width="2.1" height="2.1" fill="#d9a23c" opacity="0.95"/>
<rect x="546.45" y="653.15" width="2.1" height="2.1" fill="#d9a23c" opacity="0.95"/>
<rect x="546.45" y="655.55" width="2.1" height="2.1" fill="#d9a23c" opacity="0.95"/>
<circle cx="536.60" cy="637.10" r="0.8" fill="#000"/>
<rect x="587.05" y="569.65" width="1.9" height="1.9" fill="#1596cf" opacity="1.0"/>
<rect x="587.05" y="573.35" width="1.9" height="1.9" fill="#1596cf" opacity="1.0"/>
<rect x="587.05" y="574.51" width="1.9" height="1.9" fill="#1596cf" opacity="1.0"/>
<rect x="587.05" y="575.67" width="1.9" height="1.9" fill="#1596cf" opacity="1.0"/>
<rect x="587.05" y="576.83" width="1.9" height="1.9" fill="#1596cf" opacity="1.0"/>
<rect x="587.05" y="577.99" width="1.9" height="1.9" fill="#1596cf" opacity="1.0"/>
<rect x="587.05" y="579.14" width="1.9" height="1.9" fill="#1596cf" opacity="1.0"/>
<rect x="587.05" y="580.30" width="1.9" height="1.9" fill="#1596cf" opacity="1.0"/>
<rect x="587.05" y="581.46" width="1.9" height="1.9" fill="#1596cf" opacity="1.0"/>
<rect x="587.05" y="582.62" width="1.9" height="1.9" fill="#1596cf" opacity="1.0"/>
<rect x="587.05" y="583.78" width="1.9" height="1.9" fill="#1596cf" opacity="1.0"/>
<rect x="587.05" y="584.94" width="1.9" height="1.9" fill="#1596cf" opacity="1.0"/>
<rect x="587.05" y="586.10" width="1.9" height="1.9" fill="#1596cf" opacity="1.0"/>
<rect x="587.05" y="587.26" width="1.9" height="1.9" fill="#1596cf" opacity="1.0"/>
<rect x="587.05" y="588.41" width="1.9" height="1.9" fill="#1596cf" opacity="1.0"/>
<rect x="587.05" y="589.57" width="1.9" height="1.9" fill="#1596cf" opacity="1.0"/>
<rect x="587.05" y="590.73" width="1.9" height="1.9" fill="#1596cf" opacity="1.0"/>
<rect x="587.05" y="591.89" width="1.9" height="1.9" fill="#1596cf" opacity="1.0"/>
<rect x="587.05" y="593.05" width="1.9" height="1.9" fill="#1596cf" opacity="1.0"/>
<rect x="587.05" y="595.85" width="1.9" height="1.9" fill="#1596cf" opacity="1.0"/>
<rect x="587.05" y="597.05" width="1.9" height="1.9" fill="#1596cf" opacity="1.0"/>
<rect x="587.05" y="598.25" width="1.9" height="1.9" fill="#1596cf" opacity="1.0"/>
<rect x="587.05" y="599.45" width="1.9" height="1.9" fill="#1596cf" opacity="1.0"/>
<rect x="587.05" y="600.65" width="1.9" height="1.9" fill="#1596cf" opacity="1.0"/>
<rect x="587.05" y="601.85" width="1.9" height="1.9" fill="#1596cf" opacity="1.0"/>
<rect x="587.05" y="603.05" width="1.9" height="1.9" fill="#1596cf" opacity="1.0"/>
<rect x="587.05" y="604.25" width="1.9" height="1.9" fill="#1596cf" opacity="1.0"/>
<rect x="587.05" y="605.45" width="1.9" height="1.9" fill="#1596cf" opacity="1.0"/>
<circle cx="577.10" cy="590.00" r="0.8" fill="#000"/>
<rect x="628.05" y="531.75" width="1.9" height="1.9" fill="#2a9c46" opacity="1.0"/>
<rect x="628.05" y="549.25" width="1.9" height="1.9" fill="#2a9c46" opacity="1.0"/>
<rect x="628.05" y="556.45" width="1.9" height="1.9" fill="#2a9c46" opacity="1.0"/>
<rect x="628.05" y="566.45" width="1.9" height="1.9" fill="#2a9c46" opacity="1.0"/>
<rect x="628.05" y="568.05" width="1.9" height="1.9" fill="#2a9c46" opacity="1.0"/>
<rect x="628.05" y="569.65" width="1.9" height="1.9" fill="#2a9c46" opacity="1.0"/>
<rect x="628.05" y="574.25" width="1.9" height="1.9" fill="#2a9c46" opacity="1.0"/>
<rect x="628.05" y="575.27" width="1.9" height="1.9" fill="#2a9c46" opacity="1.0"/>
<rect x="628.05" y="576.30" width="1.9" height="1.9" fill="#2a9c46" opacity="1.0"/>
<rect x="628.05" y="577.33" width="1.9" height="1.9" fill="#2a9c46" opacity="1.0"/>
<rect x="628.05" y="578.35" width="1.9" height="1.9" fill="#2a9c46" opacity="1.0"/>
<rect x="628.05" y="579.38" width="1.9" height="1.9" fill="#2a9c46" opacity="1.0"/>
<rect x="628.05" y="580.40" width="1.9" height="1.9" fill="#2a9c46" opacity="1.0"/>
<rect x="628.05" y="581.42" width="1.9" height="1.9" fill="#2a9c46" opacity="1.0"/>
<rect x="628.05" y="582.45" width="1.9" height="1.9" fill="#2a9c46" opacity="1.0"/>
<rect x="628.05" y="583.48" width="1.9" height="1.9" fill="#2a9c46" opacity="1.0"/>
<rect x="628.05" y="584.50" width="1.9" height="1.9" fill="#2a9c46" opacity="1.0"/>
<rect x="628.05" y="585.52" width="1.9" height="1.9" fill="#2a9c46" opacity="1.0"/>
<rect x="628.05" y="586.55" width="1.9" height="1.9" fill="#2a9c46" opacity="1.0"/>
<rect x="628.05" y="587.57" width="1.9" height="1.9" fill="#2a9c46" opacity="1.0"/>
<rect x="628.05" y="588.60" width="1.9" height="1.9" fill="#2a9c46" opacity="1.0"/>
<rect x="628.05" y="589.62" width="1.9" height="1.9" fill="#2a9c46" opacity="1.0"/>
<rect x="628.05" y="590.65" width="1.9" height="1.9" fill="#2a9c46" opacity="1.0"/>
<line x1="618.00" y1="577.60" x2="618.00" y2="580.80" stroke="#000" stroke-width="1.3"/>
<rect x="669.10" y="611.60" width="2.0" height="2.0" fill="#e6307f" opacity="1.0"/>
<rect x="669.10" y="612.55" width="2.0" height="2.0" fill="#e6307f" opacity="1.0"/>
<rect x="669.10" y="613.50" width="2.0" height="2.0" fill="#e6307f" opacity="1.0"/>
<rect x="669.10" y="614.45" width="2.0" height="2.0" fill="#e6307f" opacity="1.0"/>
<rect x="669.10" y="615.40" width="2.0" height="2.0" fill="#e6307f" opacity="1.0"/>
<rect x="669.10" y="616.35" width="2.0" height="2.0" fill="#e6307f" opacity="1.0"/>
<rect x="669.10" y="617.30" width="2.0" height="2.0" fill="#e6307f" opacity="1.0"/>
<rect x="669.10" y="618.25" width="2.0" height="2.0" fill="#e6307f" opacity="1.0"/>
<rect x="669.10" y="619.20" width="2.0" height="2.0" fill="#e6307f" opacity="1.0"/>
<rect x="669.10" y="620.15" width="2.0" height="2.0" fill="#e6307f" opacity="1.0"/>
<rect x="669.10" y="621.10" width="2.0" height="2.0" fill="#e6307f" opacity="1.0"/>
<rect x="669.10" y="622.05" width="2.0" height="2.0" fill="#e6307f" opacity="1.0"/>
<rect x="669.10" y="623.00" width="2.0" height="2.0" fill="#e6307f" opacity="1.0"/>
<circle cx="658.70" cy="619.60" r="0.8" fill="#000"/>
<text x="650.00" y="647.00" font-size="8.2" fill="#e8479a" font-weight="normal" textLength="17.10" lengthAdjust="spacingAndGlyphs">Post</text>
<text x="538.30" y="520.80" font-size="7.8" font-style="italic" fill="#262626" textLength="4.1" lengthAdjust="spacingAndGlyphs">P</text>
<text x="545.00" y="520.60" font-size="7.0" fill="#262626" textLength="3.1" lengthAdjust="spacingAndGlyphs">&lt;</text>
<text x="549.60" y="520.80" font-size="8.0" fill="#262626" textLength="19.70" lengthAdjust="spacingAndGlyphs">0.001</text>
<line x1="538.60" y1="524.80" x2="570.40" y2="524.80" stroke="#c0c0c0" stroke-width="1.3"/>
<text x="582.50" y="520.80" font-size="7.8" font-style="italic" fill="#262626" textLength="4.1" lengthAdjust="spacingAndGlyphs">P</text>
<text x="590.70" y="520.60" font-size="7.0" fill="#262626" textLength="3.1" lengthAdjust="spacingAndGlyphs">=</text>
<text x="596.10" y="520.80" font-size="8.0" fill="#262626" textLength="15.90" lengthAdjust="spacingAndGlyphs">0.02</text>
<line x1="581.70" y1="524.80" x2="613.90" y2="524.80" stroke="#c0c0c0" stroke-width="1.3"/>
<text x="624.10" y="520.80" font-size="7.8" font-style="italic" fill="#262626" textLength="4.1" lengthAdjust="spacingAndGlyphs">P</text>
<text x="630.80" y="520.60" font-size="7.0" fill="#262626" textLength="3.1" lengthAdjust="spacingAndGlyphs">&lt;</text>
<text x="635.70" y="520.80" font-size="8.0" fill="#262626" textLength="20.10" lengthAdjust="spacingAndGlyphs">0.001</text>
<line x1="624.40" y1="524.80" x2="656.60" y2="524.80" stroke="#c0c0c0" stroke-width="1.3"/>
</svg></body></html>
